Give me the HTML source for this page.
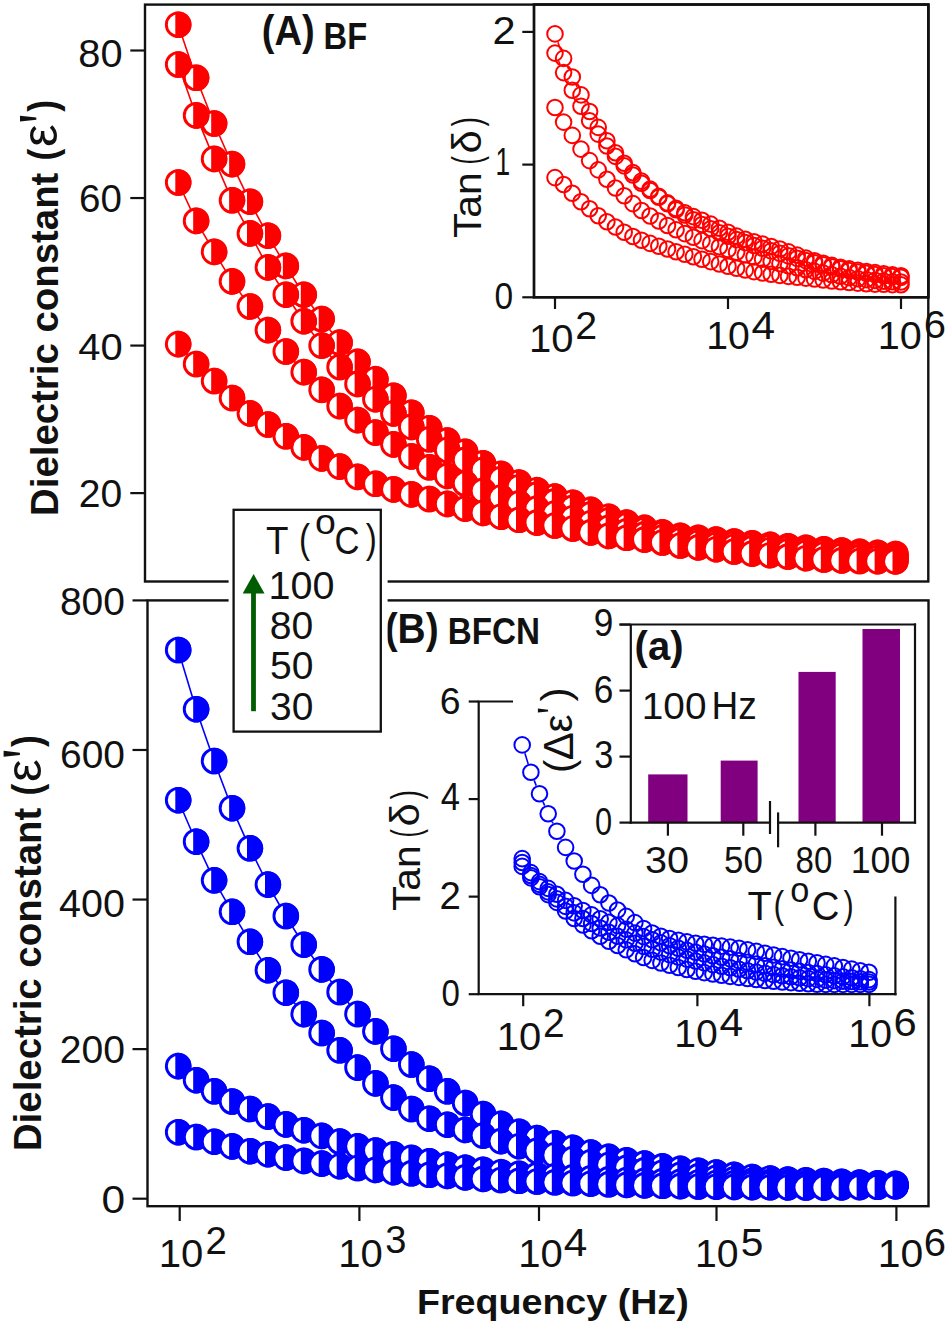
<!DOCTYPE html><html><head><meta charset="utf-8"><style>html,body{margin:0;padding:0;background:#fff;}body{width:952px;height:1328px;overflow:hidden;position:relative;}</style></head><body><svg width="952" height="1328" viewBox="0 0 952 1328" style="position:absolute;left:0;top:0" font-family="'Liberation Sans', sans-serif">
<rect width="952" height="1328" fill="#fff"/>
<polyline points="178.2,24.7 196.1,77.8 214.1,123.5 232.0,164.1 249.9,201.7 267.9,235.7 285.8,265.9 303.7,294.7 321.6,319.0 339.6,342.6 357.5,361.8 375.4,379.2 393.4,395.7 411.3,412.7 429.2,428.2 447.2,440.6 465.1,451.8 483.0,463.4 500.9,473.9 518.9,482.6 536.8,490.2 554.7,496.6 572.7,502.7 590.6,509.8 608.5,516.7 626.5,522.6 644.4,527.8 662.3,532.4 680.2,535.9 698.2,537.9 716.1,539.6 734.0,541.5 752.0,543.3 769.9,544.8 787.8,546.2 805.8,547.7 823.7,549.2 841.6,550.5 859.5,551.8 877.5,552.9 895.4,554.0" fill="none" stroke="#ff0000" stroke-width="1.6"/>
<polyline points="178.2,64.5 196.1,115.4 214.1,158.9 232.0,200.3 249.9,233.4 267.9,267.4 285.8,294.7 303.7,321.2 321.6,345.6 339.6,367.0 357.5,383.9 375.4,399.2 393.4,413.4 411.3,426.9 429.2,439.3 447.2,450.0 465.1,459.9 483.0,469.9 500.9,479.1 518.9,487.2 536.8,494.6 554.7,501.4 572.7,507.9 590.6,514.4 608.5,520.4 626.5,525.5 644.4,530.0 662.3,534.0 680.2,537.4 698.2,539.8 716.1,541.8 734.0,543.7 752.0,545.5 769.9,547.0 787.8,548.4 805.8,549.9 823.7,551.4 841.6,552.9 859.5,554.3 877.5,555.5 895.4,556.6" fill="none" stroke="#ff0000" stroke-width="1.6"/>
<polyline points="178.2,182.5 196.1,220.9 214.1,251.9 232.0,281.4 249.9,306.5 267.9,330.1 285.8,351.5 303.7,372.1 321.6,389.8 339.6,406.1 357.5,420.1 375.4,432.6 393.4,444.4 411.3,456.4 429.2,467.3 447.2,475.9 465.1,483.5 483.0,490.9 500.9,497.5 518.9,503.3 536.8,508.6 554.7,513.5 572.7,518.2 590.6,523.2 608.5,527.8 626.5,531.3 644.4,534.4 662.3,537.5 680.2,540.3 698.2,542.7 716.1,544.8 734.0,546.7 752.0,548.4 769.9,550.0 787.8,551.4 805.8,552.9 823.7,554.3 841.6,555.9 859.5,557.3 877.5,558.2 895.4,558.8" fill="none" stroke="#ff0000" stroke-width="1.6"/>
<polyline points="178.2,344.1 196.1,364.0 214.1,381.0 232.0,398.0 249.9,413.4 267.9,424.5 285.8,436.3 303.7,447.4 321.6,458.4 339.6,466.6 357.5,476.9 375.4,483.8 393.4,489.4 411.3,494.4 429.2,499.0 447.2,503.9 465.1,508.6 483.0,512.9 500.9,516.7 518.9,519.8 536.8,522.6 554.7,525.5 572.7,528.5 590.6,532.4 608.5,535.9 626.5,537.8 644.4,539.6 662.3,542.5 680.2,545.5 698.2,547.4 716.1,549.2 734.0,551.5 752.0,553.6 769.9,555.2 787.8,556.6 805.8,558.2 823.7,559.5 841.6,560.4 859.5,561.0 877.5,561.2 895.4,561.4" fill="none" stroke="#ff0000" stroke-width="1.6"/>
<circle cx="178.2" cy="24.7" r="11.85" fill="#fff" stroke="#ff0000" stroke-width="2.9"/>
<path d="M175.3,11.70A13.3,13.3 0 1 1 175.3,37.66Z" fill="#ff0000"/>
<circle cx="196.1" cy="77.8" r="11.85" fill="#fff" stroke="#ff0000" stroke-width="2.9"/>
<path d="M193.2,64.81A13.3,13.3 0 1 1 193.2,90.77Z" fill="#ff0000"/>
<circle cx="214.1" cy="123.5" r="11.85" fill="#fff" stroke="#ff0000" stroke-width="2.9"/>
<path d="M211.2,110.55A13.3,13.3 0 1 1 211.2,136.51Z" fill="#ff0000"/>
<circle cx="232.0" cy="164.1" r="11.85" fill="#fff" stroke="#ff0000" stroke-width="2.9"/>
<path d="M229.1,151.13A13.3,13.3 0 1 1 229.1,177.09Z" fill="#ff0000"/>
<circle cx="249.9" cy="201.7" r="11.85" fill="#fff" stroke="#ff0000" stroke-width="2.9"/>
<path d="M247.0,188.75A13.3,13.3 0 1 1 247.0,214.71Z" fill="#ff0000"/>
<circle cx="267.9" cy="235.7" r="11.85" fill="#fff" stroke="#ff0000" stroke-width="2.9"/>
<path d="M265.0,222.68A13.3,13.3 0 1 1 265.0,248.64Z" fill="#ff0000"/>
<circle cx="285.8" cy="265.9" r="11.85" fill="#fff" stroke="#ff0000" stroke-width="2.9"/>
<path d="M282.9,252.93A13.3,13.3 0 1 1 282.9,278.89Z" fill="#ff0000"/>
<circle cx="303.7" cy="294.7" r="11.85" fill="#fff" stroke="#ff0000" stroke-width="2.9"/>
<path d="M300.8,281.70A13.3,13.3 0 1 1 300.8,307.66Z" fill="#ff0000"/>
<circle cx="321.6" cy="319.0" r="11.85" fill="#fff" stroke="#ff0000" stroke-width="2.9"/>
<path d="M318.7,306.04A13.3,13.3 0 1 1 318.7,332.00Z" fill="#ff0000"/>
<circle cx="339.6" cy="342.6" r="11.85" fill="#fff" stroke="#ff0000" stroke-width="2.9"/>
<path d="M336.7,329.65A13.3,13.3 0 1 1 336.7,355.61Z" fill="#ff0000"/>
<circle cx="357.5" cy="361.8" r="11.85" fill="#fff" stroke="#ff0000" stroke-width="2.9"/>
<path d="M354.6,348.83A13.3,13.3 0 1 1 354.6,374.79Z" fill="#ff0000"/>
<circle cx="375.4" cy="379.2" r="11.85" fill="#fff" stroke="#ff0000" stroke-width="2.9"/>
<path d="M372.5,366.18A13.3,13.3 0 1 1 372.5,392.14Z" fill="#ff0000"/>
<circle cx="393.4" cy="395.7" r="11.85" fill="#fff" stroke="#ff0000" stroke-width="2.9"/>
<path d="M390.5,382.76A13.3,13.3 0 1 1 390.5,408.72Z" fill="#ff0000"/>
<circle cx="411.3" cy="412.7" r="11.85" fill="#fff" stroke="#ff0000" stroke-width="2.9"/>
<path d="M408.4,399.72A13.3,13.3 0 1 1 408.4,425.68Z" fill="#ff0000"/>
<circle cx="429.2" cy="428.2" r="11.85" fill="#fff" stroke="#ff0000" stroke-width="2.9"/>
<path d="M426.3,415.22A13.3,13.3 0 1 1 426.3,441.18Z" fill="#ff0000"/>
<circle cx="447.2" cy="440.6" r="11.85" fill="#fff" stroke="#ff0000" stroke-width="2.9"/>
<path d="M444.3,427.59A13.3,13.3 0 1 1 444.3,453.55Z" fill="#ff0000"/>
<circle cx="465.1" cy="451.8" r="11.85" fill="#fff" stroke="#ff0000" stroke-width="2.9"/>
<path d="M462.2,438.83A13.3,13.3 0 1 1 462.2,464.79Z" fill="#ff0000"/>
<circle cx="483.0" cy="463.4" r="11.85" fill="#fff" stroke="#ff0000" stroke-width="2.9"/>
<path d="M480.1,450.41A13.3,13.3 0 1 1 480.1,476.37Z" fill="#ff0000"/>
<circle cx="500.9" cy="473.9" r="11.85" fill="#fff" stroke="#ff0000" stroke-width="2.9"/>
<path d="M498.0,460.96A13.3,13.3 0 1 1 498.0,486.92Z" fill="#ff0000"/>
<circle cx="518.9" cy="482.6" r="11.85" fill="#fff" stroke="#ff0000" stroke-width="2.9"/>
<path d="M516.0,469.65A13.3,13.3 0 1 1 516.0,495.61Z" fill="#ff0000"/>
<circle cx="536.8" cy="490.2" r="11.85" fill="#fff" stroke="#ff0000" stroke-width="2.9"/>
<path d="M533.9,477.19A13.3,13.3 0 1 1 533.9,503.15Z" fill="#ff0000"/>
<circle cx="554.7" cy="496.6" r="11.85" fill="#fff" stroke="#ff0000" stroke-width="2.9"/>
<path d="M551.8,483.57A13.3,13.3 0 1 1 551.8,509.53Z" fill="#ff0000"/>
<circle cx="572.7" cy="502.7" r="11.85" fill="#fff" stroke="#ff0000" stroke-width="2.9"/>
<path d="M569.8,489.73A13.3,13.3 0 1 1 569.8,515.69Z" fill="#ff0000"/>
<circle cx="590.6" cy="509.8" r="11.85" fill="#fff" stroke="#ff0000" stroke-width="2.9"/>
<path d="M587.7,496.85A13.3,13.3 0 1 1 587.7,522.81Z" fill="#ff0000"/>
<circle cx="608.5" cy="516.7" r="11.85" fill="#fff" stroke="#ff0000" stroke-width="2.9"/>
<path d="M605.6,503.75A13.3,13.3 0 1 1 605.6,529.71Z" fill="#ff0000"/>
<circle cx="626.5" cy="522.6" r="11.85" fill="#fff" stroke="#ff0000" stroke-width="2.9"/>
<path d="M623.6,509.65A13.3,13.3 0 1 1 623.6,535.61Z" fill="#ff0000"/>
<circle cx="644.4" cy="527.8" r="11.85" fill="#fff" stroke="#ff0000" stroke-width="2.9"/>
<path d="M641.5,514.81A13.3,13.3 0 1 1 641.5,540.77Z" fill="#ff0000"/>
<circle cx="662.3" cy="532.4" r="11.85" fill="#fff" stroke="#ff0000" stroke-width="2.9"/>
<path d="M659.4,519.41A13.3,13.3 0 1 1 659.4,545.37Z" fill="#ff0000"/>
<circle cx="680.2" cy="535.9" r="11.85" fill="#fff" stroke="#ff0000" stroke-width="2.9"/>
<path d="M677.3,522.93A13.3,13.3 0 1 1 677.3,548.89Z" fill="#ff0000"/>
<circle cx="698.2" cy="537.9" r="11.85" fill="#fff" stroke="#ff0000" stroke-width="2.9"/>
<path d="M695.3,524.94A13.3,13.3 0 1 1 695.3,550.90Z" fill="#ff0000"/>
<circle cx="716.1" cy="539.6" r="11.85" fill="#fff" stroke="#ff0000" stroke-width="2.9"/>
<path d="M713.2,526.62A13.3,13.3 0 1 1 713.2,552.58Z" fill="#ff0000"/>
<circle cx="734.0" cy="541.5" r="11.85" fill="#fff" stroke="#ff0000" stroke-width="2.9"/>
<path d="M731.1,528.51A13.3,13.3 0 1 1 731.1,554.47Z" fill="#ff0000"/>
<circle cx="752.0" cy="543.3" r="11.85" fill="#fff" stroke="#ff0000" stroke-width="2.9"/>
<path d="M749.1,530.30A13.3,13.3 0 1 1 749.1,556.26Z" fill="#ff0000"/>
<circle cx="769.9" cy="544.8" r="11.85" fill="#fff" stroke="#ff0000" stroke-width="2.9"/>
<path d="M767.0,531.82A13.3,13.3 0 1 1 767.0,557.78Z" fill="#ff0000"/>
<circle cx="787.8" cy="546.2" r="11.85" fill="#fff" stroke="#ff0000" stroke-width="2.9"/>
<path d="M784.9,533.25A13.3,13.3 0 1 1 784.9,559.21Z" fill="#ff0000"/>
<circle cx="805.8" cy="547.7" r="11.85" fill="#fff" stroke="#ff0000" stroke-width="2.9"/>
<path d="M802.9,534.75A13.3,13.3 0 1 1 802.9,560.71Z" fill="#ff0000"/>
<circle cx="823.7" cy="549.2" r="11.85" fill="#fff" stroke="#ff0000" stroke-width="2.9"/>
<path d="M820.8,536.21A13.3,13.3 0 1 1 820.8,562.17Z" fill="#ff0000"/>
<circle cx="841.6" cy="550.5" r="11.85" fill="#fff" stroke="#ff0000" stroke-width="2.9"/>
<path d="M838.7,537.54A13.3,13.3 0 1 1 838.7,563.50Z" fill="#ff0000"/>
<circle cx="859.5" cy="551.8" r="11.85" fill="#fff" stroke="#ff0000" stroke-width="2.9"/>
<path d="M856.6,538.79A13.3,13.3 0 1 1 856.6,564.75Z" fill="#ff0000"/>
<circle cx="877.5" cy="552.9" r="11.85" fill="#fff" stroke="#ff0000" stroke-width="2.9"/>
<path d="M874.6,539.94A13.3,13.3 0 1 1 874.6,565.90Z" fill="#ff0000"/>
<circle cx="895.4" cy="554.0" r="11.85" fill="#fff" stroke="#ff0000" stroke-width="2.9"/>
<path d="M892.5,541.00A13.3,13.3 0 1 1 892.5,566.96Z" fill="#ff0000"/>
<circle cx="178.2" cy="64.5" r="11.85" fill="#fff" stroke="#ff0000" stroke-width="2.9"/>
<path d="M175.3,51.54A13.3,13.3 0 1 1 175.3,77.50Z" fill="#ff0000"/>
<circle cx="196.1" cy="115.4" r="11.85" fill="#fff" stroke="#ff0000" stroke-width="2.9"/>
<path d="M193.2,102.44A13.3,13.3 0 1 1 193.2,128.40Z" fill="#ff0000"/>
<circle cx="214.1" cy="158.9" r="11.85" fill="#fff" stroke="#ff0000" stroke-width="2.9"/>
<path d="M211.2,145.96A13.3,13.3 0 1 1 211.2,171.92Z" fill="#ff0000"/>
<circle cx="232.0" cy="200.3" r="11.85" fill="#fff" stroke="#ff0000" stroke-width="2.9"/>
<path d="M229.1,187.27A13.3,13.3 0 1 1 229.1,213.23Z" fill="#ff0000"/>
<circle cx="249.9" cy="233.4" r="11.85" fill="#fff" stroke="#ff0000" stroke-width="2.9"/>
<path d="M247.0,220.47A13.3,13.3 0 1 1 247.0,246.43Z" fill="#ff0000"/>
<circle cx="267.9" cy="267.4" r="11.85" fill="#fff" stroke="#ff0000" stroke-width="2.9"/>
<path d="M265.0,254.40A13.3,13.3 0 1 1 265.0,280.36Z" fill="#ff0000"/>
<circle cx="285.8" cy="294.7" r="11.85" fill="#fff" stroke="#ff0000" stroke-width="2.9"/>
<path d="M282.9,281.70A13.3,13.3 0 1 1 282.9,307.66Z" fill="#ff0000"/>
<circle cx="303.7" cy="321.2" r="11.85" fill="#fff" stroke="#ff0000" stroke-width="2.9"/>
<path d="M300.8,308.26A13.3,13.3 0 1 1 300.8,334.22Z" fill="#ff0000"/>
<circle cx="321.6" cy="345.6" r="11.85" fill="#fff" stroke="#ff0000" stroke-width="2.9"/>
<path d="M318.7,332.60A13.3,13.3 0 1 1 318.7,358.56Z" fill="#ff0000"/>
<circle cx="339.6" cy="367.0" r="11.85" fill="#fff" stroke="#ff0000" stroke-width="2.9"/>
<path d="M336.7,353.99A13.3,13.3 0 1 1 336.7,379.95Z" fill="#ff0000"/>
<circle cx="357.5" cy="383.9" r="11.85" fill="#fff" stroke="#ff0000" stroke-width="2.9"/>
<path d="M354.6,370.96A13.3,13.3 0 1 1 354.6,396.92Z" fill="#ff0000"/>
<circle cx="375.4" cy="399.2" r="11.85" fill="#fff" stroke="#ff0000" stroke-width="2.9"/>
<path d="M372.5,386.25A13.3,13.3 0 1 1 372.5,412.21Z" fill="#ff0000"/>
<circle cx="393.4" cy="413.4" r="11.85" fill="#fff" stroke="#ff0000" stroke-width="2.9"/>
<path d="M390.5,400.47A13.3,13.3 0 1 1 390.5,426.43Z" fill="#ff0000"/>
<circle cx="411.3" cy="426.9" r="11.85" fill="#fff" stroke="#ff0000" stroke-width="2.9"/>
<path d="M408.4,413.95A13.3,13.3 0 1 1 408.4,439.91Z" fill="#ff0000"/>
<circle cx="429.2" cy="439.3" r="11.85" fill="#fff" stroke="#ff0000" stroke-width="2.9"/>
<path d="M426.3,426.29A13.3,13.3 0 1 1 426.3,452.25Z" fill="#ff0000"/>
<circle cx="447.2" cy="450.0" r="11.85" fill="#fff" stroke="#ff0000" stroke-width="2.9"/>
<path d="M444.3,437.00A13.3,13.3 0 1 1 444.3,462.96Z" fill="#ff0000"/>
<circle cx="465.1" cy="459.9" r="11.85" fill="#fff" stroke="#ff0000" stroke-width="2.9"/>
<path d="M462.2,446.94A13.3,13.3 0 1 1 462.2,472.90Z" fill="#ff0000"/>
<circle cx="483.0" cy="469.9" r="11.85" fill="#fff" stroke="#ff0000" stroke-width="2.9"/>
<path d="M480.1,456.88A13.3,13.3 0 1 1 480.1,482.84Z" fill="#ff0000"/>
<circle cx="500.9" cy="479.1" r="11.85" fill="#fff" stroke="#ff0000" stroke-width="2.9"/>
<path d="M498.0,466.12A13.3,13.3 0 1 1 498.0,492.08Z" fill="#ff0000"/>
<circle cx="518.9" cy="487.2" r="11.85" fill="#fff" stroke="#ff0000" stroke-width="2.9"/>
<path d="M516.0,474.22A13.3,13.3 0 1 1 516.0,500.18Z" fill="#ff0000"/>
<circle cx="536.8" cy="494.6" r="11.85" fill="#fff" stroke="#ff0000" stroke-width="2.9"/>
<path d="M533.9,481.62A13.3,13.3 0 1 1 533.9,507.58Z" fill="#ff0000"/>
<circle cx="554.7" cy="501.4" r="11.85" fill="#fff" stroke="#ff0000" stroke-width="2.9"/>
<path d="M551.8,488.43A13.3,13.3 0 1 1 551.8,514.39Z" fill="#ff0000"/>
<circle cx="572.7" cy="507.9" r="11.85" fill="#fff" stroke="#ff0000" stroke-width="2.9"/>
<path d="M569.8,494.89A13.3,13.3 0 1 1 569.8,520.85Z" fill="#ff0000"/>
<circle cx="590.6" cy="514.4" r="11.85" fill="#fff" stroke="#ff0000" stroke-width="2.9"/>
<path d="M587.7,501.42A13.3,13.3 0 1 1 587.7,527.38Z" fill="#ff0000"/>
<circle cx="608.5" cy="520.4" r="11.85" fill="#fff" stroke="#ff0000" stroke-width="2.9"/>
<path d="M605.6,507.43A13.3,13.3 0 1 1 605.6,533.39Z" fill="#ff0000"/>
<circle cx="626.5" cy="525.5" r="11.85" fill="#fff" stroke="#ff0000" stroke-width="2.9"/>
<path d="M623.6,512.55A13.3,13.3 0 1 1 623.6,538.51Z" fill="#ff0000"/>
<circle cx="644.4" cy="530.0" r="11.85" fill="#fff" stroke="#ff0000" stroke-width="2.9"/>
<path d="M641.5,517.03A13.3,13.3 0 1 1 641.5,542.98Z" fill="#ff0000"/>
<circle cx="662.3" cy="534.0" r="11.85" fill="#fff" stroke="#ff0000" stroke-width="2.9"/>
<path d="M659.4,521.06A13.3,13.3 0 1 1 659.4,547.02Z" fill="#ff0000"/>
<circle cx="680.2" cy="537.4" r="11.85" fill="#fff" stroke="#ff0000" stroke-width="2.9"/>
<path d="M677.3,524.40A13.3,13.3 0 1 1 677.3,550.36Z" fill="#ff0000"/>
<circle cx="698.2" cy="539.8" r="11.85" fill="#fff" stroke="#ff0000" stroke-width="2.9"/>
<path d="M695.3,526.80A13.3,13.3 0 1 1 695.3,552.76Z" fill="#ff0000"/>
<circle cx="716.1" cy="541.8" r="11.85" fill="#fff" stroke="#ff0000" stroke-width="2.9"/>
<path d="M713.2,528.83A13.3,13.3 0 1 1 713.2,554.79Z" fill="#ff0000"/>
<circle cx="734.0" cy="543.7" r="11.85" fill="#fff" stroke="#ff0000" stroke-width="2.9"/>
<path d="M731.1,530.77A13.3,13.3 0 1 1 731.1,556.73Z" fill="#ff0000"/>
<circle cx="752.0" cy="545.5" r="11.85" fill="#fff" stroke="#ff0000" stroke-width="2.9"/>
<path d="M749.1,532.52A13.3,13.3 0 1 1 749.1,558.48Z" fill="#ff0000"/>
<circle cx="769.9" cy="547.0" r="11.85" fill="#fff" stroke="#ff0000" stroke-width="2.9"/>
<path d="M767.0,534.03A13.3,13.3 0 1 1 767.0,559.99Z" fill="#ff0000"/>
<circle cx="787.8" cy="548.4" r="11.85" fill="#fff" stroke="#ff0000" stroke-width="2.9"/>
<path d="M784.9,535.47A13.3,13.3 0 1 1 784.9,561.43Z" fill="#ff0000"/>
<circle cx="805.8" cy="549.9" r="11.85" fill="#fff" stroke="#ff0000" stroke-width="2.9"/>
<path d="M802.9,536.94A13.3,13.3 0 1 1 802.9,562.90Z" fill="#ff0000"/>
<circle cx="823.7" cy="551.4" r="11.85" fill="#fff" stroke="#ff0000" stroke-width="2.9"/>
<path d="M820.8,538.42A13.3,13.3 0 1 1 820.8,564.38Z" fill="#ff0000"/>
<circle cx="841.6" cy="552.9" r="11.85" fill="#fff" stroke="#ff0000" stroke-width="2.9"/>
<path d="M838.7,539.95A13.3,13.3 0 1 1 838.7,565.91Z" fill="#ff0000"/>
<circle cx="859.5" cy="554.3" r="11.85" fill="#fff" stroke="#ff0000" stroke-width="2.9"/>
<path d="M856.6,541.37A13.3,13.3 0 1 1 856.6,567.33Z" fill="#ff0000"/>
<circle cx="877.5" cy="555.5" r="11.85" fill="#fff" stroke="#ff0000" stroke-width="2.9"/>
<path d="M874.6,542.56A13.3,13.3 0 1 1 874.6,568.52Z" fill="#ff0000"/>
<circle cx="895.4" cy="556.6" r="11.85" fill="#fff" stroke="#ff0000" stroke-width="2.9"/>
<path d="M892.5,543.58A13.3,13.3 0 1 1 892.5,569.54Z" fill="#ff0000"/>
<circle cx="178.2" cy="182.5" r="11.85" fill="#fff" stroke="#ff0000" stroke-width="2.9"/>
<path d="M175.3,169.57A13.3,13.3 0 1 1 175.3,195.53Z" fill="#ff0000"/>
<circle cx="196.1" cy="220.9" r="11.85" fill="#fff" stroke="#ff0000" stroke-width="2.9"/>
<path d="M193.2,207.93A13.3,13.3 0 1 1 193.2,233.89Z" fill="#ff0000"/>
<circle cx="214.1" cy="251.9" r="11.85" fill="#fff" stroke="#ff0000" stroke-width="2.9"/>
<path d="M211.2,238.91A13.3,13.3 0 1 1 211.2,264.87Z" fill="#ff0000"/>
<circle cx="232.0" cy="281.4" r="11.85" fill="#fff" stroke="#ff0000" stroke-width="2.9"/>
<path d="M229.1,268.42A13.3,13.3 0 1 1 229.1,294.38Z" fill="#ff0000"/>
<circle cx="249.9" cy="306.5" r="11.85" fill="#fff" stroke="#ff0000" stroke-width="2.9"/>
<path d="M247.0,293.50A13.3,13.3 0 1 1 247.0,319.46Z" fill="#ff0000"/>
<circle cx="267.9" cy="330.1" r="11.85" fill="#fff" stroke="#ff0000" stroke-width="2.9"/>
<path d="M265.0,317.11A13.3,13.3 0 1 1 265.0,343.07Z" fill="#ff0000"/>
<circle cx="285.8" cy="351.5" r="11.85" fill="#fff" stroke="#ff0000" stroke-width="2.9"/>
<path d="M282.9,338.50A13.3,13.3 0 1 1 282.9,364.46Z" fill="#ff0000"/>
<circle cx="303.7" cy="372.1" r="11.85" fill="#fff" stroke="#ff0000" stroke-width="2.9"/>
<path d="M300.8,359.16A13.3,13.3 0 1 1 300.8,385.12Z" fill="#ff0000"/>
<circle cx="321.6" cy="389.8" r="11.85" fill="#fff" stroke="#ff0000" stroke-width="2.9"/>
<path d="M318.7,376.86A13.3,13.3 0 1 1 318.7,402.82Z" fill="#ff0000"/>
<circle cx="339.6" cy="406.1" r="11.85" fill="#fff" stroke="#ff0000" stroke-width="2.9"/>
<path d="M336.7,393.09A13.3,13.3 0 1 1 336.7,419.05Z" fill="#ff0000"/>
<circle cx="357.5" cy="420.1" r="11.85" fill="#fff" stroke="#ff0000" stroke-width="2.9"/>
<path d="M354.6,407.11A13.3,13.3 0 1 1 354.6,433.07Z" fill="#ff0000"/>
<circle cx="375.4" cy="432.6" r="11.85" fill="#fff" stroke="#ff0000" stroke-width="2.9"/>
<path d="M372.5,419.61A13.3,13.3 0 1 1 372.5,445.57Z" fill="#ff0000"/>
<circle cx="393.4" cy="444.4" r="11.85" fill="#fff" stroke="#ff0000" stroke-width="2.9"/>
<path d="M390.5,431.45A13.3,13.3 0 1 1 390.5,457.41Z" fill="#ff0000"/>
<circle cx="411.3" cy="456.4" r="11.85" fill="#fff" stroke="#ff0000" stroke-width="2.9"/>
<path d="M408.4,443.46A13.3,13.3 0 1 1 408.4,469.42Z" fill="#ff0000"/>
<circle cx="429.2" cy="467.3" r="11.85" fill="#fff" stroke="#ff0000" stroke-width="2.9"/>
<path d="M426.3,454.32A13.3,13.3 0 1 1 426.3,480.28Z" fill="#ff0000"/>
<circle cx="447.2" cy="475.9" r="11.85" fill="#fff" stroke="#ff0000" stroke-width="2.9"/>
<path d="M444.3,462.93A13.3,13.3 0 1 1 444.3,488.89Z" fill="#ff0000"/>
<circle cx="465.1" cy="483.5" r="11.85" fill="#fff" stroke="#ff0000" stroke-width="2.9"/>
<path d="M462.2,470.55A13.3,13.3 0 1 1 462.2,496.51Z" fill="#ff0000"/>
<circle cx="483.0" cy="490.9" r="11.85" fill="#fff" stroke="#ff0000" stroke-width="2.9"/>
<path d="M480.1,477.89A13.3,13.3 0 1 1 480.1,503.85Z" fill="#ff0000"/>
<circle cx="500.9" cy="497.5" r="11.85" fill="#fff" stroke="#ff0000" stroke-width="2.9"/>
<path d="M498.0,484.57A13.3,13.3 0 1 1 498.0,510.53Z" fill="#ff0000"/>
<circle cx="518.9" cy="503.3" r="11.85" fill="#fff" stroke="#ff0000" stroke-width="2.9"/>
<path d="M516.0,490.36A13.3,13.3 0 1 1 516.0,516.32Z" fill="#ff0000"/>
<circle cx="536.8" cy="508.6" r="11.85" fill="#fff" stroke="#ff0000" stroke-width="2.9"/>
<path d="M533.9,495.63A13.3,13.3 0 1 1 533.9,521.59Z" fill="#ff0000"/>
<circle cx="554.7" cy="513.5" r="11.85" fill="#fff" stroke="#ff0000" stroke-width="2.9"/>
<path d="M551.8,500.51A13.3,13.3 0 1 1 551.8,526.47Z" fill="#ff0000"/>
<circle cx="572.7" cy="518.2" r="11.85" fill="#fff" stroke="#ff0000" stroke-width="2.9"/>
<path d="M569.8,505.22A13.3,13.3 0 1 1 569.8,531.18Z" fill="#ff0000"/>
<circle cx="590.6" cy="523.2" r="11.85" fill="#fff" stroke="#ff0000" stroke-width="2.9"/>
<path d="M587.7,510.23A13.3,13.3 0 1 1 587.7,536.19Z" fill="#ff0000"/>
<circle cx="608.5" cy="527.8" r="11.85" fill="#fff" stroke="#ff0000" stroke-width="2.9"/>
<path d="M605.6,514.81A13.3,13.3 0 1 1 605.6,540.77Z" fill="#ff0000"/>
<circle cx="626.5" cy="531.3" r="11.85" fill="#fff" stroke="#ff0000" stroke-width="2.9"/>
<path d="M623.6,518.33A13.3,13.3 0 1 1 623.6,544.29Z" fill="#ff0000"/>
<circle cx="644.4" cy="534.4" r="11.85" fill="#fff" stroke="#ff0000" stroke-width="2.9"/>
<path d="M641.5,521.45A13.3,13.3 0 1 1 641.5,547.41Z" fill="#ff0000"/>
<circle cx="662.3" cy="537.5" r="11.85" fill="#fff" stroke="#ff0000" stroke-width="2.9"/>
<path d="M659.4,524.55A13.3,13.3 0 1 1 659.4,550.51Z" fill="#ff0000"/>
<circle cx="680.2" cy="540.3" r="11.85" fill="#fff" stroke="#ff0000" stroke-width="2.9"/>
<path d="M677.3,527.35A13.3,13.3 0 1 1 677.3,553.31Z" fill="#ff0000"/>
<circle cx="698.2" cy="542.7" r="11.85" fill="#fff" stroke="#ff0000" stroke-width="2.9"/>
<path d="M695.3,529.70A13.3,13.3 0 1 1 695.3,555.66Z" fill="#ff0000"/>
<circle cx="716.1" cy="544.8" r="11.85" fill="#fff" stroke="#ff0000" stroke-width="2.9"/>
<path d="M713.2,531.78A13.3,13.3 0 1 1 713.2,557.74Z" fill="#ff0000"/>
<circle cx="734.0" cy="546.7" r="11.85" fill="#fff" stroke="#ff0000" stroke-width="2.9"/>
<path d="M731.1,533.72A13.3,13.3 0 1 1 731.1,559.68Z" fill="#ff0000"/>
<circle cx="752.0" cy="548.4" r="11.85" fill="#fff" stroke="#ff0000" stroke-width="2.9"/>
<path d="M749.1,535.47A13.3,13.3 0 1 1 749.1,561.43Z" fill="#ff0000"/>
<circle cx="769.9" cy="550.0" r="11.85" fill="#fff" stroke="#ff0000" stroke-width="2.9"/>
<path d="M767.0,536.98A13.3,13.3 0 1 1 767.0,562.94Z" fill="#ff0000"/>
<circle cx="787.8" cy="551.4" r="11.85" fill="#fff" stroke="#ff0000" stroke-width="2.9"/>
<path d="M784.9,538.42A13.3,13.3 0 1 1 784.9,564.38Z" fill="#ff0000"/>
<circle cx="805.8" cy="552.9" r="11.85" fill="#fff" stroke="#ff0000" stroke-width="2.9"/>
<path d="M802.9,539.89A13.3,13.3 0 1 1 802.9,565.85Z" fill="#ff0000"/>
<circle cx="823.7" cy="554.3" r="11.85" fill="#fff" stroke="#ff0000" stroke-width="2.9"/>
<path d="M820.8,541.37A13.3,13.3 0 1 1 820.8,567.33Z" fill="#ff0000"/>
<circle cx="841.6" cy="555.9" r="11.85" fill="#fff" stroke="#ff0000" stroke-width="2.9"/>
<path d="M838.7,542.97A13.3,13.3 0 1 1 838.7,568.93Z" fill="#ff0000"/>
<circle cx="859.5" cy="557.3" r="11.85" fill="#fff" stroke="#ff0000" stroke-width="2.9"/>
<path d="M856.6,544.32A13.3,13.3 0 1 1 856.6,570.28Z" fill="#ff0000"/>
<circle cx="877.5" cy="558.2" r="11.85" fill="#fff" stroke="#ff0000" stroke-width="2.9"/>
<path d="M874.6,545.21A13.3,13.3 0 1 1 874.6,571.17Z" fill="#ff0000"/>
<circle cx="895.4" cy="558.8" r="11.85" fill="#fff" stroke="#ff0000" stroke-width="2.9"/>
<path d="M892.5,545.80A13.3,13.3 0 1 1 892.5,571.76Z" fill="#ff0000"/>
<circle cx="178.2" cy="344.1" r="11.85" fill="#fff" stroke="#ff0000" stroke-width="2.9"/>
<path d="M175.3,331.12A13.3,13.3 0 1 1 175.3,357.08Z" fill="#ff0000"/>
<circle cx="196.1" cy="364.0" r="11.85" fill="#fff" stroke="#ff0000" stroke-width="2.9"/>
<path d="M193.2,351.04A13.3,13.3 0 1 1 193.2,377.00Z" fill="#ff0000"/>
<circle cx="214.1" cy="381.0" r="11.85" fill="#fff" stroke="#ff0000" stroke-width="2.9"/>
<path d="M211.2,368.01A13.3,13.3 0 1 1 211.2,393.97Z" fill="#ff0000"/>
<circle cx="232.0" cy="398.0" r="11.85" fill="#fff" stroke="#ff0000" stroke-width="2.9"/>
<path d="M229.1,384.98A13.3,13.3 0 1 1 229.1,410.94Z" fill="#ff0000"/>
<circle cx="249.9" cy="413.4" r="11.85" fill="#fff" stroke="#ff0000" stroke-width="2.9"/>
<path d="M247.0,400.47A13.3,13.3 0 1 1 247.0,426.43Z" fill="#ff0000"/>
<circle cx="267.9" cy="424.5" r="11.85" fill="#fff" stroke="#ff0000" stroke-width="2.9"/>
<path d="M265.0,411.53A13.3,13.3 0 1 1 265.0,437.49Z" fill="#ff0000"/>
<circle cx="285.8" cy="436.3" r="11.85" fill="#fff" stroke="#ff0000" stroke-width="2.9"/>
<path d="M282.9,423.34A13.3,13.3 0 1 1 282.9,449.30Z" fill="#ff0000"/>
<circle cx="303.7" cy="447.4" r="11.85" fill="#fff" stroke="#ff0000" stroke-width="2.9"/>
<path d="M300.8,434.40A13.3,13.3 0 1 1 300.8,460.36Z" fill="#ff0000"/>
<circle cx="321.6" cy="458.4" r="11.85" fill="#fff" stroke="#ff0000" stroke-width="2.9"/>
<path d="M318.7,445.47A13.3,13.3 0 1 1 318.7,471.43Z" fill="#ff0000"/>
<circle cx="339.6" cy="466.6" r="11.85" fill="#fff" stroke="#ff0000" stroke-width="2.9"/>
<path d="M336.7,453.58A13.3,13.3 0 1 1 336.7,479.54Z" fill="#ff0000"/>
<circle cx="357.5" cy="476.9" r="11.85" fill="#fff" stroke="#ff0000" stroke-width="2.9"/>
<path d="M354.6,463.91A13.3,13.3 0 1 1 354.6,489.87Z" fill="#ff0000"/>
<circle cx="375.4" cy="483.8" r="11.85" fill="#fff" stroke="#ff0000" stroke-width="2.9"/>
<path d="M372.5,470.83A13.3,13.3 0 1 1 372.5,496.79Z" fill="#ff0000"/>
<circle cx="393.4" cy="489.4" r="11.85" fill="#fff" stroke="#ff0000" stroke-width="2.9"/>
<path d="M390.5,476.45A13.3,13.3 0 1 1 390.5,502.41Z" fill="#ff0000"/>
<circle cx="411.3" cy="494.4" r="11.85" fill="#fff" stroke="#ff0000" stroke-width="2.9"/>
<path d="M408.4,481.41A13.3,13.3 0 1 1 408.4,507.37Z" fill="#ff0000"/>
<circle cx="429.2" cy="499.0" r="11.85" fill="#fff" stroke="#ff0000" stroke-width="2.9"/>
<path d="M426.3,486.04A13.3,13.3 0 1 1 426.3,512.00Z" fill="#ff0000"/>
<circle cx="447.2" cy="503.9" r="11.85" fill="#fff" stroke="#ff0000" stroke-width="2.9"/>
<path d="M444.3,490.94A13.3,13.3 0 1 1 444.3,516.90Z" fill="#ff0000"/>
<circle cx="465.1" cy="508.6" r="11.85" fill="#fff" stroke="#ff0000" stroke-width="2.9"/>
<path d="M462.2,495.63A13.3,13.3 0 1 1 462.2,521.59Z" fill="#ff0000"/>
<circle cx="483.0" cy="512.9" r="11.85" fill="#fff" stroke="#ff0000" stroke-width="2.9"/>
<path d="M480.1,499.93A13.3,13.3 0 1 1 480.1,525.89Z" fill="#ff0000"/>
<circle cx="500.9" cy="516.7" r="11.85" fill="#fff" stroke="#ff0000" stroke-width="2.9"/>
<path d="M498.0,503.75A13.3,13.3 0 1 1 498.0,529.71Z" fill="#ff0000"/>
<circle cx="518.9" cy="519.8" r="11.85" fill="#fff" stroke="#ff0000" stroke-width="2.9"/>
<path d="M516.0,506.81A13.3,13.3 0 1 1 516.0,532.77Z" fill="#ff0000"/>
<circle cx="536.8" cy="522.6" r="11.85" fill="#fff" stroke="#ff0000" stroke-width="2.9"/>
<path d="M533.9,509.65A13.3,13.3 0 1 1 533.9,535.61Z" fill="#ff0000"/>
<circle cx="554.7" cy="525.5" r="11.85" fill="#fff" stroke="#ff0000" stroke-width="2.9"/>
<path d="M551.8,512.52A13.3,13.3 0 1 1 551.8,538.48Z" fill="#ff0000"/>
<circle cx="572.7" cy="528.5" r="11.85" fill="#fff" stroke="#ff0000" stroke-width="2.9"/>
<path d="M569.8,515.55A13.3,13.3 0 1 1 569.8,541.51Z" fill="#ff0000"/>
<circle cx="590.6" cy="532.4" r="11.85" fill="#fff" stroke="#ff0000" stroke-width="2.9"/>
<path d="M587.7,519.44A13.3,13.3 0 1 1 587.7,545.40Z" fill="#ff0000"/>
<circle cx="608.5" cy="535.9" r="11.85" fill="#fff" stroke="#ff0000" stroke-width="2.9"/>
<path d="M605.6,522.93A13.3,13.3 0 1 1 605.6,548.89Z" fill="#ff0000"/>
<circle cx="626.5" cy="537.8" r="11.85" fill="#fff" stroke="#ff0000" stroke-width="2.9"/>
<path d="M623.6,524.82A13.3,13.3 0 1 1 623.6,550.78Z" fill="#ff0000"/>
<circle cx="644.4" cy="539.6" r="11.85" fill="#fff" stroke="#ff0000" stroke-width="2.9"/>
<path d="M641.5,526.62A13.3,13.3 0 1 1 641.5,552.58Z" fill="#ff0000"/>
<circle cx="662.3" cy="542.5" r="11.85" fill="#fff" stroke="#ff0000" stroke-width="2.9"/>
<path d="M659.4,529.57A13.3,13.3 0 1 1 659.4,555.53Z" fill="#ff0000"/>
<circle cx="680.2" cy="545.5" r="11.85" fill="#fff" stroke="#ff0000" stroke-width="2.9"/>
<path d="M677.3,532.52A13.3,13.3 0 1 1 677.3,558.48Z" fill="#ff0000"/>
<circle cx="698.2" cy="547.4" r="11.85" fill="#fff" stroke="#ff0000" stroke-width="2.9"/>
<path d="M695.3,534.43A13.3,13.3 0 1 1 695.3,560.39Z" fill="#ff0000"/>
<circle cx="716.1" cy="549.2" r="11.85" fill="#fff" stroke="#ff0000" stroke-width="2.9"/>
<path d="M713.2,536.21A13.3,13.3 0 1 1 713.2,562.17Z" fill="#ff0000"/>
<circle cx="734.0" cy="551.5" r="11.85" fill="#fff" stroke="#ff0000" stroke-width="2.9"/>
<path d="M731.1,538.48A13.3,13.3 0 1 1 731.1,564.44Z" fill="#ff0000"/>
<circle cx="752.0" cy="553.6" r="11.85" fill="#fff" stroke="#ff0000" stroke-width="2.9"/>
<path d="M749.1,540.63A13.3,13.3 0 1 1 749.1,566.59Z" fill="#ff0000"/>
<circle cx="769.9" cy="555.2" r="11.85" fill="#fff" stroke="#ff0000" stroke-width="2.9"/>
<path d="M767.0,542.18A13.3,13.3 0 1 1 767.0,568.14Z" fill="#ff0000"/>
<circle cx="787.8" cy="556.6" r="11.85" fill="#fff" stroke="#ff0000" stroke-width="2.9"/>
<path d="M784.9,543.58A13.3,13.3 0 1 1 784.9,569.54Z" fill="#ff0000"/>
<circle cx="805.8" cy="558.2" r="11.85" fill="#fff" stroke="#ff0000" stroke-width="2.9"/>
<path d="M802.9,545.18A13.3,13.3 0 1 1 802.9,571.14Z" fill="#ff0000"/>
<circle cx="823.7" cy="559.5" r="11.85" fill="#fff" stroke="#ff0000" stroke-width="2.9"/>
<path d="M820.8,546.53A13.3,13.3 0 1 1 820.8,572.49Z" fill="#ff0000"/>
<circle cx="841.6" cy="560.4" r="11.85" fill="#fff" stroke="#ff0000" stroke-width="2.9"/>
<path d="M838.7,547.44A13.3,13.3 0 1 1 838.7,573.40Z" fill="#ff0000"/>
<circle cx="859.5" cy="561.0" r="11.85" fill="#fff" stroke="#ff0000" stroke-width="2.9"/>
<path d="M856.6,548.01A13.3,13.3 0 1 1 856.6,573.97Z" fill="#ff0000"/>
<circle cx="877.5" cy="561.2" r="11.85" fill="#fff" stroke="#ff0000" stroke-width="2.9"/>
<path d="M874.6,548.27A13.3,13.3 0 1 1 874.6,574.23Z" fill="#ff0000"/>
<circle cx="895.4" cy="561.4" r="11.85" fill="#fff" stroke="#ff0000" stroke-width="2.9"/>
<path d="M892.5,548.38A13.3,13.3 0 1 1 892.5,574.34Z" fill="#ff0000"/>
<rect x="145" y="4.6" width="783.3" height="576.9" fill="none" stroke="#111" stroke-width="2.4"/>
<line x1="130.3" y1="50.5" x2="145" y2="50.5" stroke="#111" stroke-width="2.2"/>
<line x1="130.3" y1="198.04" x2="145" y2="198.04" stroke="#111" stroke-width="2.2"/>
<line x1="130.3" y1="345.58" x2="145" y2="345.58" stroke="#111" stroke-width="2.2"/>
<line x1="130.3" y1="493.12" x2="145" y2="493.12" stroke="#111" stroke-width="2.2"/>
<text x="78.31" y="67.41" font-size="38.59" textLength="44.28" lengthAdjust="spacingAndGlyphs" fill="#111">80</text>
<text x="79.07" y="212.41" font-size="38.73" textLength="42.86" lengthAdjust="spacingAndGlyphs" fill="#111">60</text>
<text x="78.20" y="359.52" font-size="37.74" textLength="44.39" lengthAdjust="spacingAndGlyphs" fill="#111">40</text>
<text x="78.74" y="507.41" font-size="38.73" textLength="43.51" lengthAdjust="spacingAndGlyphs" fill="#111">20</text>
<text x="57.90" y="515.99" font-size="39.10" font-weight="bold" textLength="343.37" lengthAdjust="spacingAndGlyphs" transform="rotate(-90 57.90 515.99)" fill="#111">Dielectric constant</text>
<text x="57.17" y="160.47" font-size="40.64" font-weight="bold" textLength="11.79" lengthAdjust="spacingAndGlyphs" transform="rotate(-90 57.17 160.47)" fill="#111">(</text>
<text x="57.40" y="146.89" font-size="50.23" textLength="22.75" lengthAdjust="spacingAndGlyphs" transform="rotate(-90 57.40 146.89)" fill="#111">ε</text>
<path d="M20,115.7 L36.3,117.6 L36.3,119.8 L20,121.6 Z" fill="#111"/>
<text x="57.17" y="111.79" font-size="40.64" font-weight="bold" textLength="11.89" lengthAdjust="spacingAndGlyphs" transform="rotate(-90 57.17 111.79)" fill="#111">)</text>
<text x="41.50" y="1151.09" font-size="39.10" font-weight="bold" textLength="343.37" lengthAdjust="spacingAndGlyphs" transform="rotate(-90 41.50 1151.09)" fill="#111">Dielectric constant</text>
<text x="40.77" y="795.57" font-size="40.64" font-weight="bold" textLength="11.79" lengthAdjust="spacingAndGlyphs" transform="rotate(-90 40.77 795.57)" fill="#111">(</text>
<text x="41.00" y="781.99" font-size="50.23" textLength="22.75" lengthAdjust="spacingAndGlyphs" transform="rotate(-90 41.00 781.99)" fill="#111">ε</text>
<path d="M3.6000000000000014,750.8000000000001 L19.9,752.7 L19.9,754.9 L3.6000000000000014,756.7 Z" fill="#111"/>
<text x="40.77" y="746.89" font-size="40.64" font-weight="bold" textLength="11.89" lengthAdjust="spacingAndGlyphs" transform="rotate(-90 40.77 746.89)" fill="#111">)</text>
<text x="261.79" y="45.43" font-size="43.22" font-weight="bold" textLength="52.94" lengthAdjust="spacingAndGlyphs" fill="#111">(A)</text>
<text x="323.59" y="48.90" font-size="37.67" font-weight="bold" textLength="43.57" lengthAdjust="spacingAndGlyphs" fill="#111">BF</text>
<rect x="534" y="4.6" width="394.3" height="292.7" fill="#fff" stroke="#111" stroke-width="2.4"/>
<circle cx="555.0" cy="177.6" r="7.8" fill="none" stroke="#ff0000" stroke-width="2.0"/>
<circle cx="563.6" cy="184.5" r="7.8" fill="none" stroke="#ff0000" stroke-width="2.0"/>
<circle cx="572.3" cy="193.3" r="7.8" fill="none" stroke="#ff0000" stroke-width="2.0"/>
<circle cx="581.0" cy="201.8" r="7.8" fill="none" stroke="#ff0000" stroke-width="2.0"/>
<circle cx="589.6" cy="208.7" r="7.8" fill="none" stroke="#ff0000" stroke-width="2.0"/>
<circle cx="598.2" cy="215.7" r="7.8" fill="none" stroke="#ff0000" stroke-width="2.0"/>
<circle cx="606.9" cy="221.7" r="7.8" fill="none" stroke="#ff0000" stroke-width="2.0"/>
<circle cx="615.5" cy="227.0" r="7.8" fill="none" stroke="#ff0000" stroke-width="2.0"/>
<circle cx="624.2" cy="232.3" r="7.8" fill="none" stroke="#ff0000" stroke-width="2.0"/>
<circle cx="632.9" cy="236.5" r="7.8" fill="none" stroke="#ff0000" stroke-width="2.0"/>
<circle cx="641.5" cy="240.2" r="7.8" fill="none" stroke="#ff0000" stroke-width="2.0"/>
<circle cx="650.1" cy="243.4" r="7.8" fill="none" stroke="#ff0000" stroke-width="2.0"/>
<circle cx="658.8" cy="246.3" r="7.8" fill="none" stroke="#ff0000" stroke-width="2.0"/>
<circle cx="667.5" cy="249.0" r="7.8" fill="none" stroke="#ff0000" stroke-width="2.0"/>
<circle cx="676.1" cy="251.7" r="7.8" fill="none" stroke="#ff0000" stroke-width="2.0"/>
<circle cx="684.8" cy="254.3" r="7.8" fill="none" stroke="#ff0000" stroke-width="2.0"/>
<circle cx="693.4" cy="256.8" r="7.8" fill="none" stroke="#ff0000" stroke-width="2.0"/>
<circle cx="702.0" cy="259.3" r="7.8" fill="none" stroke="#ff0000" stroke-width="2.0"/>
<circle cx="710.7" cy="261.6" r="7.8" fill="none" stroke="#ff0000" stroke-width="2.0"/>
<circle cx="719.4" cy="264.0" r="7.8" fill="none" stroke="#ff0000" stroke-width="2.0"/>
<circle cx="728.0" cy="266.2" r="7.8" fill="none" stroke="#ff0000" stroke-width="2.0"/>
<circle cx="736.6" cy="268.3" r="7.8" fill="none" stroke="#ff0000" stroke-width="2.0"/>
<circle cx="745.3" cy="270.0" r="7.8" fill="none" stroke="#ff0000" stroke-width="2.0"/>
<circle cx="754.0" cy="271.6" r="7.8" fill="none" stroke="#ff0000" stroke-width="2.0"/>
<circle cx="762.6" cy="273.0" r="7.8" fill="none" stroke="#ff0000" stroke-width="2.0"/>
<circle cx="771.2" cy="274.3" r="7.8" fill="none" stroke="#ff0000" stroke-width="2.0"/>
<circle cx="779.9" cy="275.4" r="7.8" fill="none" stroke="#ff0000" stroke-width="2.0"/>
<circle cx="788.5" cy="276.4" r="7.8" fill="none" stroke="#ff0000" stroke-width="2.0"/>
<circle cx="797.2" cy="277.3" r="7.8" fill="none" stroke="#ff0000" stroke-width="2.0"/>
<circle cx="805.9" cy="278.1" r="7.8" fill="none" stroke="#ff0000" stroke-width="2.0"/>
<circle cx="814.5" cy="279.0" r="7.8" fill="none" stroke="#ff0000" stroke-width="2.0"/>
<circle cx="823.2" cy="280.0" r="7.8" fill="none" stroke="#ff0000" stroke-width="2.0"/>
<circle cx="831.8" cy="281.0" r="7.8" fill="none" stroke="#ff0000" stroke-width="2.0"/>
<circle cx="840.5" cy="281.8" r="7.8" fill="none" stroke="#ff0000" stroke-width="2.0"/>
<circle cx="849.1" cy="282.5" r="7.8" fill="none" stroke="#ff0000" stroke-width="2.0"/>
<circle cx="857.8" cy="283.1" r="7.8" fill="none" stroke="#ff0000" stroke-width="2.0"/>
<circle cx="866.4" cy="283.7" r="7.8" fill="none" stroke="#ff0000" stroke-width="2.0"/>
<circle cx="875.0" cy="284.1" r="7.8" fill="none" stroke="#ff0000" stroke-width="2.0"/>
<circle cx="883.7" cy="284.3" r="7.8" fill="none" stroke="#ff0000" stroke-width="2.0"/>
<circle cx="892.4" cy="284.6" r="7.8" fill="none" stroke="#ff0000" stroke-width="2.0"/>
<circle cx="901.0" cy="284.7" r="7.8" fill="none" stroke="#ff0000" stroke-width="2.0"/>
<circle cx="555.0" cy="107.5" r="7.8" fill="none" stroke="#ff0000" stroke-width="2.0"/>
<circle cx="563.6" cy="122.1" r="7.8" fill="none" stroke="#ff0000" stroke-width="2.0"/>
<circle cx="572.3" cy="135.4" r="7.8" fill="none" stroke="#ff0000" stroke-width="2.0"/>
<circle cx="581.0" cy="149.1" r="7.8" fill="none" stroke="#ff0000" stroke-width="2.0"/>
<circle cx="589.6" cy="160.6" r="7.8" fill="none" stroke="#ff0000" stroke-width="2.0"/>
<circle cx="598.2" cy="169.9" r="7.8" fill="none" stroke="#ff0000" stroke-width="2.0"/>
<circle cx="606.9" cy="179.3" r="7.8" fill="none" stroke="#ff0000" stroke-width="2.0"/>
<circle cx="615.5" cy="188.0" r="7.8" fill="none" stroke="#ff0000" stroke-width="2.0"/>
<circle cx="624.2" cy="195.8" r="7.8" fill="none" stroke="#ff0000" stroke-width="2.0"/>
<circle cx="632.9" cy="203.6" r="7.8" fill="none" stroke="#ff0000" stroke-width="2.0"/>
<circle cx="641.5" cy="210.5" r="7.8" fill="none" stroke="#ff0000" stroke-width="2.0"/>
<circle cx="650.1" cy="216.0" r="7.8" fill="none" stroke="#ff0000" stroke-width="2.0"/>
<circle cx="658.8" cy="221.0" r="7.8" fill="none" stroke="#ff0000" stroke-width="2.0"/>
<circle cx="667.5" cy="225.5" r="7.8" fill="none" stroke="#ff0000" stroke-width="2.0"/>
<circle cx="676.1" cy="229.7" r="7.8" fill="none" stroke="#ff0000" stroke-width="2.0"/>
<circle cx="684.8" cy="233.6" r="7.8" fill="none" stroke="#ff0000" stroke-width="2.0"/>
<circle cx="693.4" cy="237.2" r="7.8" fill="none" stroke="#ff0000" stroke-width="2.0"/>
<circle cx="702.0" cy="240.6" r="7.8" fill="none" stroke="#ff0000" stroke-width="2.0"/>
<circle cx="710.7" cy="243.8" r="7.8" fill="none" stroke="#ff0000" stroke-width="2.0"/>
<circle cx="719.4" cy="246.7" r="7.8" fill="none" stroke="#ff0000" stroke-width="2.0"/>
<circle cx="728.0" cy="249.5" r="7.8" fill="none" stroke="#ff0000" stroke-width="2.0"/>
<circle cx="736.6" cy="252.2" r="7.8" fill="none" stroke="#ff0000" stroke-width="2.0"/>
<circle cx="745.3" cy="254.7" r="7.8" fill="none" stroke="#ff0000" stroke-width="2.0"/>
<circle cx="754.0" cy="257.0" r="7.8" fill="none" stroke="#ff0000" stroke-width="2.0"/>
<circle cx="762.6" cy="259.3" r="7.8" fill="none" stroke="#ff0000" stroke-width="2.0"/>
<circle cx="771.2" cy="261.5" r="7.8" fill="none" stroke="#ff0000" stroke-width="2.0"/>
<circle cx="779.9" cy="263.6" r="7.8" fill="none" stroke="#ff0000" stroke-width="2.0"/>
<circle cx="788.5" cy="265.7" r="7.8" fill="none" stroke="#ff0000" stroke-width="2.0"/>
<circle cx="797.2" cy="267.7" r="7.8" fill="none" stroke="#ff0000" stroke-width="2.0"/>
<circle cx="805.9" cy="269.7" r="7.8" fill="none" stroke="#ff0000" stroke-width="2.0"/>
<circle cx="814.5" cy="271.4" r="7.8" fill="none" stroke="#ff0000" stroke-width="2.0"/>
<circle cx="823.2" cy="273.1" r="7.8" fill="none" stroke="#ff0000" stroke-width="2.0"/>
<circle cx="831.8" cy="274.8" r="7.8" fill="none" stroke="#ff0000" stroke-width="2.0"/>
<circle cx="840.5" cy="276.3" r="7.8" fill="none" stroke="#ff0000" stroke-width="2.0"/>
<circle cx="849.1" cy="277.6" r="7.8" fill="none" stroke="#ff0000" stroke-width="2.0"/>
<circle cx="857.8" cy="278.7" r="7.8" fill="none" stroke="#ff0000" stroke-width="2.0"/>
<circle cx="866.4" cy="279.6" r="7.8" fill="none" stroke="#ff0000" stroke-width="2.0"/>
<circle cx="875.0" cy="280.4" r="7.8" fill="none" stroke="#ff0000" stroke-width="2.0"/>
<circle cx="883.7" cy="281.1" r="7.8" fill="none" stroke="#ff0000" stroke-width="2.0"/>
<circle cx="892.4" cy="281.7" r="7.8" fill="none" stroke="#ff0000" stroke-width="2.0"/>
<circle cx="901.0" cy="282.0" r="7.8" fill="none" stroke="#ff0000" stroke-width="2.0"/>
<path d="M558.6,61.2L560.1,64.5M567.5,80.5L568.4,82.4M576.5,98.0L576.8,98.5" fill="none" stroke="#ff0000" stroke-width="1.6"/>
<circle cx="555.0" cy="53.1" r="7.8" fill="none" stroke="#ff0000" stroke-width="2.0"/>
<circle cx="563.6" cy="72.6" r="7.8" fill="none" stroke="#ff0000" stroke-width="2.0"/>
<circle cx="572.3" cy="90.3" r="7.8" fill="none" stroke="#ff0000" stroke-width="2.0"/>
<circle cx="581.0" cy="106.3" r="7.8" fill="none" stroke="#ff0000" stroke-width="2.0"/>
<circle cx="589.6" cy="120.8" r="7.8" fill="none" stroke="#ff0000" stroke-width="2.0"/>
<circle cx="598.2" cy="134.1" r="7.8" fill="none" stroke="#ff0000" stroke-width="2.0"/>
<circle cx="606.9" cy="146.0" r="7.8" fill="none" stroke="#ff0000" stroke-width="2.0"/>
<circle cx="615.5" cy="156.4" r="7.8" fill="none" stroke="#ff0000" stroke-width="2.0"/>
<circle cx="624.2" cy="165.9" r="7.8" fill="none" stroke="#ff0000" stroke-width="2.0"/>
<circle cx="632.9" cy="175.0" r="7.8" fill="none" stroke="#ff0000" stroke-width="2.0"/>
<circle cx="641.5" cy="183.2" r="7.8" fill="none" stroke="#ff0000" stroke-width="2.0"/>
<circle cx="650.1" cy="190.5" r="7.8" fill="none" stroke="#ff0000" stroke-width="2.0"/>
<circle cx="658.8" cy="197.3" r="7.8" fill="none" stroke="#ff0000" stroke-width="2.0"/>
<circle cx="667.5" cy="203.7" r="7.8" fill="none" stroke="#ff0000" stroke-width="2.0"/>
<circle cx="676.1" cy="209.7" r="7.8" fill="none" stroke="#ff0000" stroke-width="2.0"/>
<circle cx="684.8" cy="215.0" r="7.8" fill="none" stroke="#ff0000" stroke-width="2.0"/>
<circle cx="693.4" cy="219.9" r="7.8" fill="none" stroke="#ff0000" stroke-width="2.0"/>
<circle cx="702.0" cy="224.5" r="7.8" fill="none" stroke="#ff0000" stroke-width="2.0"/>
<circle cx="710.7" cy="228.7" r="7.8" fill="none" stroke="#ff0000" stroke-width="2.0"/>
<circle cx="719.4" cy="232.7" r="7.8" fill="none" stroke="#ff0000" stroke-width="2.0"/>
<circle cx="728.0" cy="236.3" r="7.8" fill="none" stroke="#ff0000" stroke-width="2.0"/>
<circle cx="736.6" cy="239.6" r="7.8" fill="none" stroke="#ff0000" stroke-width="2.0"/>
<circle cx="745.3" cy="242.6" r="7.8" fill="none" stroke="#ff0000" stroke-width="2.0"/>
<circle cx="754.0" cy="245.5" r="7.8" fill="none" stroke="#ff0000" stroke-width="2.0"/>
<circle cx="762.6" cy="248.2" r="7.8" fill="none" stroke="#ff0000" stroke-width="2.0"/>
<circle cx="771.2" cy="250.9" r="7.8" fill="none" stroke="#ff0000" stroke-width="2.0"/>
<circle cx="779.9" cy="253.4" r="7.8" fill="none" stroke="#ff0000" stroke-width="2.0"/>
<circle cx="788.5" cy="255.9" r="7.8" fill="none" stroke="#ff0000" stroke-width="2.0"/>
<circle cx="797.2" cy="258.4" r="7.8" fill="none" stroke="#ff0000" stroke-width="2.0"/>
<circle cx="805.9" cy="260.6" r="7.8" fill="none" stroke="#ff0000" stroke-width="2.0"/>
<circle cx="814.5" cy="262.8" r="7.8" fill="none" stroke="#ff0000" stroke-width="2.0"/>
<circle cx="823.2" cy="264.9" r="7.8" fill="none" stroke="#ff0000" stroke-width="2.0"/>
<circle cx="831.8" cy="266.9" r="7.8" fill="none" stroke="#ff0000" stroke-width="2.0"/>
<circle cx="840.5" cy="268.8" r="7.8" fill="none" stroke="#ff0000" stroke-width="2.0"/>
<circle cx="849.1" cy="270.6" r="7.8" fill="none" stroke="#ff0000" stroke-width="2.0"/>
<circle cx="857.8" cy="272.1" r="7.8" fill="none" stroke="#ff0000" stroke-width="2.0"/>
<circle cx="866.4" cy="273.4" r="7.8" fill="none" stroke="#ff0000" stroke-width="2.0"/>
<circle cx="875.0" cy="274.6" r="7.8" fill="none" stroke="#ff0000" stroke-width="2.0"/>
<circle cx="883.7" cy="275.7" r="7.8" fill="none" stroke="#ff0000" stroke-width="2.0"/>
<circle cx="892.4" cy="276.6" r="7.8" fill="none" stroke="#ff0000" stroke-width="2.0"/>
<circle cx="901.0" cy="277.4" r="7.8" fill="none" stroke="#ff0000" stroke-width="2.0"/>
<path d="M557.9,42.2L560.7,50.1M567.4,66.4L568.6,69.0M576.1,84.9L577.1,87.0M585.0,102.7L585.5,103.7M593.8,119.3L594.0,119.7" fill="none" stroke="#ff0000" stroke-width="1.6"/>
<circle cx="555.0" cy="33.9" r="7.8" fill="none" stroke="#ff0000" stroke-width="2.0"/>
<circle cx="563.6" cy="58.4" r="7.8" fill="none" stroke="#ff0000" stroke-width="2.0"/>
<circle cx="572.3" cy="77.0" r="7.8" fill="none" stroke="#ff0000" stroke-width="2.0"/>
<circle cx="581.0" cy="94.9" r="7.8" fill="none" stroke="#ff0000" stroke-width="2.0"/>
<circle cx="589.6" cy="111.5" r="7.8" fill="none" stroke="#ff0000" stroke-width="2.0"/>
<circle cx="598.2" cy="127.4" r="7.8" fill="none" stroke="#ff0000" stroke-width="2.0"/>
<circle cx="606.9" cy="140.7" r="7.8" fill="none" stroke="#ff0000" stroke-width="2.0"/>
<circle cx="615.5" cy="152.7" r="7.8" fill="none" stroke="#ff0000" stroke-width="2.0"/>
<circle cx="624.2" cy="163.3" r="7.8" fill="none" stroke="#ff0000" stroke-width="2.0"/>
<circle cx="632.9" cy="172.6" r="7.8" fill="none" stroke="#ff0000" stroke-width="2.0"/>
<circle cx="641.5" cy="181.1" r="7.8" fill="none" stroke="#ff0000" stroke-width="2.0"/>
<circle cx="650.1" cy="189.1" r="7.8" fill="none" stroke="#ff0000" stroke-width="2.0"/>
<circle cx="658.8" cy="196.4" r="7.8" fill="none" stroke="#ff0000" stroke-width="2.0"/>
<circle cx="667.5" cy="202.9" r="7.8" fill="none" stroke="#ff0000" stroke-width="2.0"/>
<circle cx="676.1" cy="208.4" r="7.8" fill="none" stroke="#ff0000" stroke-width="2.0"/>
<circle cx="684.8" cy="212.8" r="7.8" fill="none" stroke="#ff0000" stroke-width="2.0"/>
<circle cx="693.4" cy="216.6" r="7.8" fill="none" stroke="#ff0000" stroke-width="2.0"/>
<circle cx="702.0" cy="220.2" r="7.8" fill="none" stroke="#ff0000" stroke-width="2.0"/>
<circle cx="710.7" cy="224.1" r="7.8" fill="none" stroke="#ff0000" stroke-width="2.0"/>
<circle cx="719.4" cy="228.2" r="7.8" fill="none" stroke="#ff0000" stroke-width="2.0"/>
<circle cx="728.0" cy="232.3" r="7.8" fill="none" stroke="#ff0000" stroke-width="2.0"/>
<circle cx="736.6" cy="236.1" r="7.8" fill="none" stroke="#ff0000" stroke-width="2.0"/>
<circle cx="745.3" cy="239.2" r="7.8" fill="none" stroke="#ff0000" stroke-width="2.0"/>
<circle cx="754.0" cy="241.8" r="7.8" fill="none" stroke="#ff0000" stroke-width="2.0"/>
<circle cx="762.6" cy="244.1" r="7.8" fill="none" stroke="#ff0000" stroke-width="2.0"/>
<circle cx="771.2" cy="246.5" r="7.8" fill="none" stroke="#ff0000" stroke-width="2.0"/>
<circle cx="779.9" cy="249.0" r="7.8" fill="none" stroke="#ff0000" stroke-width="2.0"/>
<circle cx="788.5" cy="251.9" r="7.8" fill="none" stroke="#ff0000" stroke-width="2.0"/>
<circle cx="797.2" cy="255.1" r="7.8" fill="none" stroke="#ff0000" stroke-width="2.0"/>
<circle cx="805.9" cy="258.1" r="7.8" fill="none" stroke="#ff0000" stroke-width="2.0"/>
<circle cx="814.5" cy="260.8" r="7.8" fill="none" stroke="#ff0000" stroke-width="2.0"/>
<circle cx="823.2" cy="263.2" r="7.8" fill="none" stroke="#ff0000" stroke-width="2.0"/>
<circle cx="831.8" cy="265.4" r="7.8" fill="none" stroke="#ff0000" stroke-width="2.0"/>
<circle cx="840.5" cy="267.3" r="7.8" fill="none" stroke="#ff0000" stroke-width="2.0"/>
<circle cx="849.1" cy="268.9" r="7.8" fill="none" stroke="#ff0000" stroke-width="2.0"/>
<circle cx="857.8" cy="270.3" r="7.8" fill="none" stroke="#ff0000" stroke-width="2.0"/>
<circle cx="866.4" cy="271.5" r="7.8" fill="none" stroke="#ff0000" stroke-width="2.0"/>
<circle cx="875.0" cy="272.6" r="7.8" fill="none" stroke="#ff0000" stroke-width="2.0"/>
<circle cx="883.7" cy="273.7" r="7.8" fill="none" stroke="#ff0000" stroke-width="2.0"/>
<circle cx="892.4" cy="274.7" r="7.8" fill="none" stroke="#ff0000" stroke-width="2.0"/>
<circle cx="901.0" cy="275.7" r="7.8" fill="none" stroke="#ff0000" stroke-width="2.0"/>
<rect x="534" y="4.6" width="394.3" height="292.7" fill="none" stroke="#111" stroke-width="2.4"/>
<line x1="522.3" y1="31.900000000000034" x2="534" y2="31.900000000000034" stroke="#111" stroke-width="2.2"/>
<line x1="522.3" y1="164.60000000000002" x2="534" y2="164.60000000000002" stroke="#111" stroke-width="2.2"/>
<line x1="522.3" y1="297.3" x2="534" y2="297.3" stroke="#111" stroke-width="2.2"/>
<text x="492.62" y="43.60" font-size="39.14" textLength="23.10" lengthAdjust="spacingAndGlyphs" fill="#111">2</text>
<text x="495.62" y="174.80" font-size="38.40" textLength="14.66" lengthAdjust="spacingAndGlyphs" fill="#111">1</text>
<text x="494.56" y="308.73" font-size="37.46" textLength="18.64" lengthAdjust="spacingAndGlyphs" fill="#111">0</text>
<line x1="555.0" y1="297.3" x2="555.0" y2="309" stroke="#111" stroke-width="2.2"/>
<text x="529.10" y="351.62" font-size="37.88" textLength="44.49" lengthAdjust="spacingAndGlyphs" fill="#111">10</text>
<text x="575.23" y="338.90" font-size="39.14" textLength="21.88" lengthAdjust="spacingAndGlyphs" fill="#111">2</text>
<line x1="728.0" y1="297.3" x2="728.0" y2="309" stroke="#111" stroke-width="2.2"/>
<text x="706.26" y="349.21" font-size="38.59" textLength="43.60" lengthAdjust="spacingAndGlyphs" fill="#111">10</text>
<text x="751.55" y="338.70" font-size="39.13" textLength="23.57" lengthAdjust="spacingAndGlyphs" fill="#111">4</text>
<line x1="901.0" y1="297.3" x2="901.0" y2="309" stroke="#111" stroke-width="2.2"/>
<text x="877.83" y="349.21" font-size="38.59" textLength="44.05" lengthAdjust="spacingAndGlyphs" fill="#111">10</text>
<text x="923.80" y="338.31" font-size="38.73" textLength="22.25" lengthAdjust="spacingAndGlyphs" fill="#111">6</text>
<text x="481.10" y="238.02" font-size="38.40" textLength="65.66" lengthAdjust="spacingAndGlyphs" transform="rotate(-90 481.10 238.02)" fill="#111">Tan</text>
<text x="481.33" y="164.46" font-size="40.32" textLength="8.29" lengthAdjust="spacingAndGlyphs" transform="rotate(-90 481.33 164.46)" fill="#111">(</text>
<text x="480.70" y="153.48" font-size="40.14" textLength="23.33" lengthAdjust="spacingAndGlyphs" transform="rotate(-90 480.70 153.48)" fill="#111">δ</text>
<text x="481.33" y="126.52" font-size="40.32" textLength="9.68" lengthAdjust="spacingAndGlyphs" transform="rotate(-90 481.33 126.52)" fill="#111">)</text>
<polyline points="178.2,650.0 196.1,709.2 214.1,761.0 232.0,808.2 249.9,848.3 267.9,884.6 285.8,916.0 303.7,944.7 321.6,969.4 339.6,992.0 357.5,1014.0 375.4,1031.4 393.4,1048.7 411.3,1064.5 429.2,1078.7 447.2,1091.3 465.1,1103.0 483.0,1114.1 500.9,1123.9 518.9,1131.7 536.8,1138.1 554.7,1143.3 572.7,1147.8 590.6,1152.5 608.5,1156.8 626.5,1160.4 644.4,1163.6 662.3,1166.4 680.2,1168.8 698.2,1170.7 716.1,1172.5 734.0,1174.9 752.0,1177.0 769.9,1178.5 787.8,1179.6 805.8,1180.4 823.7,1181.1 841.6,1181.9 859.5,1182.6 877.5,1183.3 895.4,1183.9" fill="none" stroke="#0000ff" stroke-width="1.6"/>
<polyline points="178.2,800.2 196.1,841.7 214.1,880.3 232.0,911.8 249.9,941.8 267.9,970.2 285.8,992.7 303.7,1014.1 321.6,1033.0 339.6,1050.3 357.5,1067.6 375.4,1083.4 393.4,1097.6 411.3,1109.0 429.2,1118.7 447.2,1124.7 465.1,1129.9 483.0,1135.6 500.9,1141.1 518.9,1146.2 536.8,1150.8 554.7,1155.2 572.7,1159.1 590.6,1162.2 608.5,1165.0 626.5,1167.8 644.4,1170.3 662.3,1172.7 680.2,1174.8 698.2,1176.3 716.1,1177.8 734.0,1179.3 752.0,1180.8 769.9,1181.8 787.8,1182.6 805.8,1183.2 823.7,1183.7 841.6,1184.3 859.5,1184.9 877.5,1185.3 895.4,1185.6" fill="none" stroke="#0000ff" stroke-width="1.6"/>
<polyline points="178.2,1066.1 196.1,1080.2 214.1,1091.3 232.0,1101.5 249.9,1109.0 267.9,1116.6 285.8,1124.4 303.7,1130.2 321.6,1135.9 339.6,1141.5 357.5,1146.3 375.4,1150.5 393.4,1154.4 411.3,1157.9 429.2,1161.3 447.2,1164.7 465.1,1167.7 483.0,1169.9 500.9,1172.2 518.9,1173.8 536.8,1175.1 554.7,1176.3 572.7,1177.4 590.6,1178.4 608.5,1179.3 626.5,1180.1 644.4,1180.8 662.3,1181.3 680.2,1181.9 698.2,1182.5 716.1,1183.0 734.0,1183.4 752.0,1183.7 769.9,1184.1 787.8,1184.5 805.8,1184.7 823.7,1184.9 841.6,1185.1 859.5,1185.2 877.5,1185.2 895.4,1185.2" fill="none" stroke="#0000ff" stroke-width="1.6"/>
<polyline points="178.2,1132.2 196.1,1137.0 214.1,1141.7 232.0,1146.4 249.9,1151.2 267.9,1154.2 285.8,1157.6 303.7,1160.9 321.6,1163.6 339.6,1166.2 357.5,1168.0 375.4,1169.9 393.4,1172.2 411.3,1173.3 429.2,1174.8 447.2,1175.9 465.1,1177.4 483.0,1178.9 500.9,1180.0 518.9,1180.8 536.8,1181.5 554.7,1182.3 572.7,1183.0 590.6,1183.7 608.5,1184.3 626.5,1184.9 644.4,1185.4 662.3,1185.8 680.2,1186.1 698.2,1186.5 716.1,1186.7 734.0,1186.9 752.0,1187.1 769.9,1187.3 787.8,1187.4 805.8,1187.5 823.7,1187.5 841.6,1187.4 859.5,1187.1 877.5,1186.8 895.4,1186.4" fill="none" stroke="#0000ff" stroke-width="1.6"/>
<circle cx="178.2" cy="650.0" r="11.85" fill="#fff" stroke="#0000ff" stroke-width="2.9"/>
<path d="M175.3,637.01A13.3,13.3 0 1 1 175.3,662.97Z" fill="#0000ff"/>
<circle cx="196.1" cy="709.2" r="11.85" fill="#fff" stroke="#0000ff" stroke-width="2.9"/>
<path d="M193.2,696.24A13.3,13.3 0 1 1 193.2,722.20Z" fill="#0000ff"/>
<circle cx="214.1" cy="761.0" r="11.85" fill="#fff" stroke="#0000ff" stroke-width="2.9"/>
<path d="M211.2,747.99A13.3,13.3 0 1 1 211.2,773.95Z" fill="#0000ff"/>
<circle cx="232.0" cy="808.2" r="11.85" fill="#fff" stroke="#0000ff" stroke-width="2.9"/>
<path d="M229.1,795.26A13.3,13.3 0 1 1 229.1,821.22Z" fill="#0000ff"/>
<circle cx="249.9" cy="848.3" r="11.85" fill="#fff" stroke="#0000ff" stroke-width="2.9"/>
<path d="M247.0,835.34A13.3,13.3 0 1 1 247.0,861.30Z" fill="#0000ff"/>
<circle cx="267.9" cy="884.6" r="11.85" fill="#fff" stroke="#0000ff" stroke-width="2.9"/>
<path d="M265.0,871.61A13.3,13.3 0 1 1 265.0,897.57Z" fill="#0000ff"/>
<circle cx="285.8" cy="916.0" r="11.85" fill="#fff" stroke="#0000ff" stroke-width="2.9"/>
<path d="M282.9,903.03A13.3,13.3 0 1 1 282.9,928.99Z" fill="#0000ff"/>
<circle cx="303.7" cy="944.7" r="11.85" fill="#fff" stroke="#0000ff" stroke-width="2.9"/>
<path d="M300.8,931.74A13.3,13.3 0 1 1 300.8,957.70Z" fill="#0000ff"/>
<circle cx="321.6" cy="969.4" r="11.85" fill="#fff" stroke="#0000ff" stroke-width="2.9"/>
<path d="M318.7,956.42A13.3,13.3 0 1 1 318.7,982.38Z" fill="#0000ff"/>
<circle cx="339.6" cy="992.0" r="11.85" fill="#fff" stroke="#0000ff" stroke-width="2.9"/>
<path d="M336.7,979.01A13.3,13.3 0 1 1 336.7,1004.97Z" fill="#0000ff"/>
<circle cx="357.5" cy="1014.0" r="11.85" fill="#fff" stroke="#0000ff" stroke-width="2.9"/>
<path d="M354.6,1001.00A13.3,13.3 0 1 1 354.6,1026.96Z" fill="#0000ff"/>
<circle cx="375.4" cy="1031.4" r="11.85" fill="#fff" stroke="#0000ff" stroke-width="2.9"/>
<path d="M372.5,1018.42A13.3,13.3 0 1 1 372.5,1044.38Z" fill="#0000ff"/>
<circle cx="393.4" cy="1048.7" r="11.85" fill="#fff" stroke="#0000ff" stroke-width="2.9"/>
<path d="M390.5,1035.70A13.3,13.3 0 1 1 390.5,1061.66Z" fill="#0000ff"/>
<circle cx="411.3" cy="1064.5" r="11.85" fill="#fff" stroke="#0000ff" stroke-width="2.9"/>
<path d="M408.4,1051.55A13.3,13.3 0 1 1 408.4,1077.51Z" fill="#0000ff"/>
<circle cx="429.2" cy="1078.7" r="11.85" fill="#fff" stroke="#0000ff" stroke-width="2.9"/>
<path d="M426.3,1065.69A13.3,13.3 0 1 1 426.3,1091.65Z" fill="#0000ff"/>
<circle cx="447.2" cy="1091.3" r="11.85" fill="#fff" stroke="#0000ff" stroke-width="2.9"/>
<path d="M444.3,1078.32A13.3,13.3 0 1 1 444.3,1104.28Z" fill="#0000ff"/>
<circle cx="465.1" cy="1103.0" r="11.85" fill="#fff" stroke="#0000ff" stroke-width="2.9"/>
<path d="M462.2,1089.99A13.3,13.3 0 1 1 462.2,1115.95Z" fill="#0000ff"/>
<circle cx="483.0" cy="1114.1" r="11.85" fill="#fff" stroke="#0000ff" stroke-width="2.9"/>
<path d="M480.1,1101.16A13.3,13.3 0 1 1 480.1,1127.12Z" fill="#0000ff"/>
<circle cx="500.9" cy="1123.9" r="11.85" fill="#fff" stroke="#0000ff" stroke-width="2.9"/>
<path d="M498.0,1110.93A13.3,13.3 0 1 1 498.0,1136.89Z" fill="#0000ff"/>
<circle cx="518.9" cy="1131.7" r="11.85" fill="#fff" stroke="#0000ff" stroke-width="2.9"/>
<path d="M516.0,1118.71A13.3,13.3 0 1 1 516.0,1144.67Z" fill="#0000ff"/>
<circle cx="536.8" cy="1138.1" r="11.85" fill="#fff" stroke="#0000ff" stroke-width="2.9"/>
<path d="M533.9,1125.14A13.3,13.3 0 1 1 533.9,1151.10Z" fill="#0000ff"/>
<circle cx="554.7" cy="1143.3" r="11.85" fill="#fff" stroke="#0000ff" stroke-width="2.9"/>
<path d="M551.8,1130.28A13.3,13.3 0 1 1 551.8,1156.24Z" fill="#0000ff"/>
<circle cx="572.7" cy="1147.8" r="11.85" fill="#fff" stroke="#0000ff" stroke-width="2.9"/>
<path d="M569.8,1134.86A13.3,13.3 0 1 1 569.8,1160.82Z" fill="#0000ff"/>
<circle cx="590.6" cy="1152.5" r="11.85" fill="#fff" stroke="#0000ff" stroke-width="2.9"/>
<path d="M587.7,1139.56A13.3,13.3 0 1 1 587.7,1165.52Z" fill="#0000ff"/>
<circle cx="608.5" cy="1156.8" r="11.85" fill="#fff" stroke="#0000ff" stroke-width="2.9"/>
<path d="M605.6,1143.84A13.3,13.3 0 1 1 605.6,1169.80Z" fill="#0000ff"/>
<circle cx="626.5" cy="1160.4" r="11.85" fill="#fff" stroke="#0000ff" stroke-width="2.9"/>
<path d="M623.6,1147.43A13.3,13.3 0 1 1 623.6,1173.39Z" fill="#0000ff"/>
<circle cx="644.4" cy="1163.6" r="11.85" fill="#fff" stroke="#0000ff" stroke-width="2.9"/>
<path d="M641.5,1150.57A13.3,13.3 0 1 1 641.5,1176.53Z" fill="#0000ff"/>
<circle cx="662.3" cy="1166.4" r="11.85" fill="#fff" stroke="#0000ff" stroke-width="2.9"/>
<path d="M659.4,1153.38A13.3,13.3 0 1 1 659.4,1179.34Z" fill="#0000ff"/>
<circle cx="680.2" cy="1168.8" r="11.85" fill="#fff" stroke="#0000ff" stroke-width="2.9"/>
<path d="M677.3,1155.81A13.3,13.3 0 1 1 677.3,1181.77Z" fill="#0000ff"/>
<circle cx="698.2" cy="1170.7" r="11.85" fill="#fff" stroke="#0000ff" stroke-width="2.9"/>
<path d="M695.3,1157.71A13.3,13.3 0 1 1 695.3,1183.67Z" fill="#0000ff"/>
<circle cx="716.1" cy="1172.5" r="11.85" fill="#fff" stroke="#0000ff" stroke-width="2.9"/>
<path d="M713.2,1159.54A13.3,13.3 0 1 1 713.2,1185.50Z" fill="#0000ff"/>
<circle cx="734.0" cy="1174.9" r="11.85" fill="#fff" stroke="#0000ff" stroke-width="2.9"/>
<path d="M731.1,1161.88A13.3,13.3 0 1 1 731.1,1187.84Z" fill="#0000ff"/>
<circle cx="752.0" cy="1177.0" r="11.85" fill="#fff" stroke="#0000ff" stroke-width="2.9"/>
<path d="M749.1,1164.03A13.3,13.3 0 1 1 749.1,1189.99Z" fill="#0000ff"/>
<circle cx="769.9" cy="1178.5" r="11.85" fill="#fff" stroke="#0000ff" stroke-width="2.9"/>
<path d="M767.0,1165.52A13.3,13.3 0 1 1 767.0,1191.48Z" fill="#0000ff"/>
<circle cx="787.8" cy="1179.6" r="11.85" fill="#fff" stroke="#0000ff" stroke-width="2.9"/>
<path d="M784.9,1166.65A13.3,13.3 0 1 1 784.9,1192.61Z" fill="#0000ff"/>
<circle cx="805.8" cy="1180.4" r="11.85" fill="#fff" stroke="#0000ff" stroke-width="2.9"/>
<path d="M802.9,1167.45A13.3,13.3 0 1 1 802.9,1193.41Z" fill="#0000ff"/>
<circle cx="823.7" cy="1181.1" r="11.85" fill="#fff" stroke="#0000ff" stroke-width="2.9"/>
<path d="M820.8,1168.15A13.3,13.3 0 1 1 820.8,1194.11Z" fill="#0000ff"/>
<circle cx="841.6" cy="1181.9" r="11.85" fill="#fff" stroke="#0000ff" stroke-width="2.9"/>
<path d="M838.7,1168.91A13.3,13.3 0 1 1 838.7,1194.87Z" fill="#0000ff"/>
<circle cx="859.5" cy="1182.6" r="11.85" fill="#fff" stroke="#0000ff" stroke-width="2.9"/>
<path d="M856.6,1169.64A13.3,13.3 0 1 1 856.6,1195.60Z" fill="#0000ff"/>
<circle cx="877.5" cy="1183.3" r="11.85" fill="#fff" stroke="#0000ff" stroke-width="2.9"/>
<path d="M874.6,1170.30A13.3,13.3 0 1 1 874.6,1196.26Z" fill="#0000ff"/>
<circle cx="895.4" cy="1183.9" r="11.85" fill="#fff" stroke="#0000ff" stroke-width="2.9"/>
<path d="M892.5,1170.91A13.3,13.3 0 1 1 892.5,1196.87Z" fill="#0000ff"/>
<circle cx="178.2" cy="800.2" r="11.85" fill="#fff" stroke="#0000ff" stroke-width="2.9"/>
<path d="M175.3,787.25A13.3,13.3 0 1 1 175.3,813.21Z" fill="#0000ff"/>
<circle cx="196.1" cy="841.7" r="11.85" fill="#fff" stroke="#0000ff" stroke-width="2.9"/>
<path d="M193.2,828.69A13.3,13.3 0 1 1 193.2,854.65Z" fill="#0000ff"/>
<circle cx="214.1" cy="880.3" r="11.85" fill="#fff" stroke="#0000ff" stroke-width="2.9"/>
<path d="M211.2,867.35A13.3,13.3 0 1 1 211.2,893.31Z" fill="#0000ff"/>
<circle cx="232.0" cy="911.8" r="11.85" fill="#fff" stroke="#0000ff" stroke-width="2.9"/>
<path d="M229.1,898.84A13.3,13.3 0 1 1 229.1,924.80Z" fill="#0000ff"/>
<circle cx="249.9" cy="941.8" r="11.85" fill="#fff" stroke="#0000ff" stroke-width="2.9"/>
<path d="M247.0,928.83A13.3,13.3 0 1 1 247.0,954.79Z" fill="#0000ff"/>
<circle cx="267.9" cy="970.2" r="11.85" fill="#fff" stroke="#0000ff" stroke-width="2.9"/>
<path d="M265.0,957.25A13.3,13.3 0 1 1 265.0,983.21Z" fill="#0000ff"/>
<circle cx="285.8" cy="992.7" r="11.85" fill="#fff" stroke="#0000ff" stroke-width="2.9"/>
<path d="M282.9,979.76A13.3,13.3 0 1 1 282.9,1005.72Z" fill="#0000ff"/>
<circle cx="303.7" cy="1014.1" r="11.85" fill="#fff" stroke="#0000ff" stroke-width="2.9"/>
<path d="M300.8,1001.15A13.3,13.3 0 1 1 300.8,1027.11Z" fill="#0000ff"/>
<circle cx="321.6" cy="1033.0" r="11.85" fill="#fff" stroke="#0000ff" stroke-width="2.9"/>
<path d="M318.7,1019.99A13.3,13.3 0 1 1 318.7,1045.95Z" fill="#0000ff"/>
<circle cx="339.6" cy="1050.3" r="11.85" fill="#fff" stroke="#0000ff" stroke-width="2.9"/>
<path d="M336.7,1037.34A13.3,13.3 0 1 1 336.7,1063.30Z" fill="#0000ff"/>
<circle cx="357.5" cy="1067.6" r="11.85" fill="#fff" stroke="#0000ff" stroke-width="2.9"/>
<path d="M354.6,1054.62A13.3,13.3 0 1 1 354.6,1080.58Z" fill="#0000ff"/>
<circle cx="375.4" cy="1083.4" r="11.85" fill="#fff" stroke="#0000ff" stroke-width="2.9"/>
<path d="M372.5,1070.40A13.3,13.3 0 1 1 372.5,1096.36Z" fill="#0000ff"/>
<circle cx="393.4" cy="1097.6" r="11.85" fill="#fff" stroke="#0000ff" stroke-width="2.9"/>
<path d="M390.5,1084.61A13.3,13.3 0 1 1 390.5,1110.57Z" fill="#0000ff"/>
<circle cx="411.3" cy="1109.0" r="11.85" fill="#fff" stroke="#0000ff" stroke-width="2.9"/>
<path d="M408.4,1095.98A13.3,13.3 0 1 1 408.4,1121.94Z" fill="#0000ff"/>
<circle cx="429.2" cy="1118.7" r="11.85" fill="#fff" stroke="#0000ff" stroke-width="2.9"/>
<path d="M426.3,1105.70A13.3,13.3 0 1 1 426.3,1131.66Z" fill="#0000ff"/>
<circle cx="447.2" cy="1124.7" r="11.85" fill="#fff" stroke="#0000ff" stroke-width="2.9"/>
<path d="M444.3,1111.74A13.3,13.3 0 1 1 444.3,1137.70Z" fill="#0000ff"/>
<circle cx="465.1" cy="1129.9" r="11.85" fill="#fff" stroke="#0000ff" stroke-width="2.9"/>
<path d="M462.2,1116.92A13.3,13.3 0 1 1 462.2,1142.88Z" fill="#0000ff"/>
<circle cx="483.0" cy="1135.6" r="11.85" fill="#fff" stroke="#0000ff" stroke-width="2.9"/>
<path d="M480.1,1122.63A13.3,13.3 0 1 1 480.1,1148.59Z" fill="#0000ff"/>
<circle cx="500.9" cy="1141.1" r="11.85" fill="#fff" stroke="#0000ff" stroke-width="2.9"/>
<path d="M498.0,1128.13A13.3,13.3 0 1 1 498.0,1154.09Z" fill="#0000ff"/>
<circle cx="518.9" cy="1146.2" r="11.85" fill="#fff" stroke="#0000ff" stroke-width="2.9"/>
<path d="M516.0,1133.18A13.3,13.3 0 1 1 516.0,1159.14Z" fill="#0000ff"/>
<circle cx="536.8" cy="1150.8" r="11.85" fill="#fff" stroke="#0000ff" stroke-width="2.9"/>
<path d="M533.9,1137.86A13.3,13.3 0 1 1 533.9,1163.82Z" fill="#0000ff"/>
<circle cx="554.7" cy="1155.2" r="11.85" fill="#fff" stroke="#0000ff" stroke-width="2.9"/>
<path d="M551.8,1142.22A13.3,13.3 0 1 1 551.8,1168.18Z" fill="#0000ff"/>
<circle cx="572.7" cy="1159.1" r="11.85" fill="#fff" stroke="#0000ff" stroke-width="2.9"/>
<path d="M569.8,1146.08A13.3,13.3 0 1 1 569.8,1172.04Z" fill="#0000ff"/>
<circle cx="590.6" cy="1162.2" r="11.85" fill="#fff" stroke="#0000ff" stroke-width="2.9"/>
<path d="M587.7,1149.24A13.3,13.3 0 1 1 587.7,1175.20Z" fill="#0000ff"/>
<circle cx="608.5" cy="1165.0" r="11.85" fill="#fff" stroke="#0000ff" stroke-width="2.9"/>
<path d="M605.6,1152.07A13.3,13.3 0 1 1 605.6,1178.03Z" fill="#0000ff"/>
<circle cx="626.5" cy="1167.8" r="11.85" fill="#fff" stroke="#0000ff" stroke-width="2.9"/>
<path d="M623.6,1154.78A13.3,13.3 0 1 1 623.6,1180.74Z" fill="#0000ff"/>
<circle cx="644.4" cy="1170.3" r="11.85" fill="#fff" stroke="#0000ff" stroke-width="2.9"/>
<path d="M641.5,1157.30A13.3,13.3 0 1 1 641.5,1183.26Z" fill="#0000ff"/>
<circle cx="662.3" cy="1172.7" r="11.85" fill="#fff" stroke="#0000ff" stroke-width="2.9"/>
<path d="M659.4,1159.70A13.3,13.3 0 1 1 659.4,1185.66Z" fill="#0000ff"/>
<circle cx="680.2" cy="1174.8" r="11.85" fill="#fff" stroke="#0000ff" stroke-width="2.9"/>
<path d="M677.3,1161.79A13.3,13.3 0 1 1 677.3,1187.75Z" fill="#0000ff"/>
<circle cx="698.2" cy="1176.3" r="11.85" fill="#fff" stroke="#0000ff" stroke-width="2.9"/>
<path d="M695.3,1163.36A13.3,13.3 0 1 1 695.3,1189.32Z" fill="#0000ff"/>
<circle cx="716.1" cy="1177.8" r="11.85" fill="#fff" stroke="#0000ff" stroke-width="2.9"/>
<path d="M713.2,1164.78A13.3,13.3 0 1 1 713.2,1190.74Z" fill="#0000ff"/>
<circle cx="734.0" cy="1179.3" r="11.85" fill="#fff" stroke="#0000ff" stroke-width="2.9"/>
<path d="M731.1,1166.36A13.3,13.3 0 1 1 731.1,1192.32Z" fill="#0000ff"/>
<circle cx="752.0" cy="1180.8" r="11.85" fill="#fff" stroke="#0000ff" stroke-width="2.9"/>
<path d="M749.1,1167.77A13.3,13.3 0 1 1 749.1,1193.73Z" fill="#0000ff"/>
<circle cx="769.9" cy="1181.8" r="11.85" fill="#fff" stroke="#0000ff" stroke-width="2.9"/>
<path d="M767.0,1168.82A13.3,13.3 0 1 1 767.0,1194.78Z" fill="#0000ff"/>
<circle cx="787.8" cy="1182.6" r="11.85" fill="#fff" stroke="#0000ff" stroke-width="2.9"/>
<path d="M784.9,1169.64A13.3,13.3 0 1 1 784.9,1195.60Z" fill="#0000ff"/>
<circle cx="805.8" cy="1183.2" r="11.85" fill="#fff" stroke="#0000ff" stroke-width="2.9"/>
<path d="M802.9,1170.24A13.3,13.3 0 1 1 802.9,1196.20Z" fill="#0000ff"/>
<circle cx="823.7" cy="1183.7" r="11.85" fill="#fff" stroke="#0000ff" stroke-width="2.9"/>
<path d="M820.8,1170.76A13.3,13.3 0 1 1 820.8,1196.72Z" fill="#0000ff"/>
<circle cx="841.6" cy="1184.3" r="11.85" fill="#fff" stroke="#0000ff" stroke-width="2.9"/>
<path d="M838.7,1171.35A13.3,13.3 0 1 1 838.7,1197.31Z" fill="#0000ff"/>
<circle cx="859.5" cy="1184.9" r="11.85" fill="#fff" stroke="#0000ff" stroke-width="2.9"/>
<path d="M856.6,1171.88A13.3,13.3 0 1 1 856.6,1197.84Z" fill="#0000ff"/>
<circle cx="877.5" cy="1185.3" r="11.85" fill="#fff" stroke="#0000ff" stroke-width="2.9"/>
<path d="M874.6,1172.30A13.3,13.3 0 1 1 874.6,1198.26Z" fill="#0000ff"/>
<circle cx="895.4" cy="1185.6" r="11.85" fill="#fff" stroke="#0000ff" stroke-width="2.9"/>
<path d="M892.5,1172.63A13.3,13.3 0 1 1 892.5,1198.59Z" fill="#0000ff"/>
<circle cx="178.2" cy="1066.1" r="11.85" fill="#fff" stroke="#0000ff" stroke-width="2.9"/>
<path d="M175.3,1053.12A13.3,13.3 0 1 1 175.3,1079.08Z" fill="#0000ff"/>
<circle cx="196.1" cy="1080.2" r="11.85" fill="#fff" stroke="#0000ff" stroke-width="2.9"/>
<path d="M193.2,1067.26A13.3,13.3 0 1 1 193.2,1093.22Z" fill="#0000ff"/>
<circle cx="214.1" cy="1091.3" r="11.85" fill="#fff" stroke="#0000ff" stroke-width="2.9"/>
<path d="M211.2,1078.33A13.3,13.3 0 1 1 211.2,1104.29Z" fill="#0000ff"/>
<circle cx="232.0" cy="1101.5" r="11.85" fill="#fff" stroke="#0000ff" stroke-width="2.9"/>
<path d="M229.1,1088.50A13.3,13.3 0 1 1 229.1,1114.46Z" fill="#0000ff"/>
<circle cx="249.9" cy="1109.0" r="11.85" fill="#fff" stroke="#0000ff" stroke-width="2.9"/>
<path d="M247.0,1095.98A13.3,13.3 0 1 1 247.0,1121.94Z" fill="#0000ff"/>
<circle cx="267.9" cy="1116.6" r="11.85" fill="#fff" stroke="#0000ff" stroke-width="2.9"/>
<path d="M265.0,1103.60A13.3,13.3 0 1 1 265.0,1129.56Z" fill="#0000ff"/>
<circle cx="285.8" cy="1124.4" r="11.85" fill="#fff" stroke="#0000ff" stroke-width="2.9"/>
<path d="M282.9,1111.46A13.3,13.3 0 1 1 282.9,1137.42Z" fill="#0000ff"/>
<circle cx="303.7" cy="1130.2" r="11.85" fill="#fff" stroke="#0000ff" stroke-width="2.9"/>
<path d="M300.8,1117.22A13.3,13.3 0 1 1 300.8,1143.18Z" fill="#0000ff"/>
<circle cx="321.6" cy="1135.9" r="11.85" fill="#fff" stroke="#0000ff" stroke-width="2.9"/>
<path d="M318.7,1122.90A13.3,13.3 0 1 1 318.7,1148.86Z" fill="#0000ff"/>
<circle cx="339.6" cy="1141.5" r="11.85" fill="#fff" stroke="#0000ff" stroke-width="2.9"/>
<path d="M336.7,1128.51A13.3,13.3 0 1 1 336.7,1154.47Z" fill="#0000ff"/>
<circle cx="357.5" cy="1146.3" r="11.85" fill="#fff" stroke="#0000ff" stroke-width="2.9"/>
<path d="M354.6,1133.37A13.3,13.3 0 1 1 354.6,1159.33Z" fill="#0000ff"/>
<circle cx="375.4" cy="1150.5" r="11.85" fill="#fff" stroke="#0000ff" stroke-width="2.9"/>
<path d="M372.5,1137.48A13.3,13.3 0 1 1 372.5,1163.44Z" fill="#0000ff"/>
<circle cx="393.4" cy="1154.4" r="11.85" fill="#fff" stroke="#0000ff" stroke-width="2.9"/>
<path d="M390.5,1141.45A13.3,13.3 0 1 1 390.5,1167.41Z" fill="#0000ff"/>
<circle cx="411.3" cy="1157.9" r="11.85" fill="#fff" stroke="#0000ff" stroke-width="2.9"/>
<path d="M408.4,1144.96A13.3,13.3 0 1 1 408.4,1170.92Z" fill="#0000ff"/>
<circle cx="429.2" cy="1161.3" r="11.85" fill="#fff" stroke="#0000ff" stroke-width="2.9"/>
<path d="M426.3,1148.33A13.3,13.3 0 1 1 426.3,1174.29Z" fill="#0000ff"/>
<circle cx="447.2" cy="1164.7" r="11.85" fill="#fff" stroke="#0000ff" stroke-width="2.9"/>
<path d="M444.3,1151.69A13.3,13.3 0 1 1 444.3,1177.65Z" fill="#0000ff"/>
<circle cx="465.1" cy="1167.7" r="11.85" fill="#fff" stroke="#0000ff" stroke-width="2.9"/>
<path d="M462.2,1154.68A13.3,13.3 0 1 1 462.2,1180.64Z" fill="#0000ff"/>
<circle cx="483.0" cy="1169.9" r="11.85" fill="#fff" stroke="#0000ff" stroke-width="2.9"/>
<path d="M480.1,1156.93A13.3,13.3 0 1 1 480.1,1182.89Z" fill="#0000ff"/>
<circle cx="500.9" cy="1172.2" r="11.85" fill="#fff" stroke="#0000ff" stroke-width="2.9"/>
<path d="M498.0,1159.17A13.3,13.3 0 1 1 498.0,1185.13Z" fill="#0000ff"/>
<circle cx="518.9" cy="1173.8" r="11.85" fill="#fff" stroke="#0000ff" stroke-width="2.9"/>
<path d="M516.0,1160.80A13.3,13.3 0 1 1 516.0,1186.76Z" fill="#0000ff"/>
<circle cx="536.8" cy="1175.1" r="11.85" fill="#fff" stroke="#0000ff" stroke-width="2.9"/>
<path d="M533.9,1162.16A13.3,13.3 0 1 1 533.9,1188.12Z" fill="#0000ff"/>
<circle cx="554.7" cy="1176.3" r="11.85" fill="#fff" stroke="#0000ff" stroke-width="2.9"/>
<path d="M551.8,1163.35A13.3,13.3 0 1 1 551.8,1189.31Z" fill="#0000ff"/>
<circle cx="572.7" cy="1177.4" r="11.85" fill="#fff" stroke="#0000ff" stroke-width="2.9"/>
<path d="M569.8,1164.41A13.3,13.3 0 1 1 569.8,1190.37Z" fill="#0000ff"/>
<circle cx="590.6" cy="1178.4" r="11.85" fill="#fff" stroke="#0000ff" stroke-width="2.9"/>
<path d="M587.7,1165.39A13.3,13.3 0 1 1 587.7,1191.35Z" fill="#0000ff"/>
<circle cx="608.5" cy="1179.3" r="11.85" fill="#fff" stroke="#0000ff" stroke-width="2.9"/>
<path d="M605.6,1166.28A13.3,13.3 0 1 1 605.6,1192.24Z" fill="#0000ff"/>
<circle cx="626.5" cy="1180.1" r="11.85" fill="#fff" stroke="#0000ff" stroke-width="2.9"/>
<path d="M623.6,1167.07A13.3,13.3 0 1 1 623.6,1193.03Z" fill="#0000ff"/>
<circle cx="644.4" cy="1180.8" r="11.85" fill="#fff" stroke="#0000ff" stroke-width="2.9"/>
<path d="M641.5,1167.77A13.3,13.3 0 1 1 641.5,1193.73Z" fill="#0000ff"/>
<circle cx="662.3" cy="1181.3" r="11.85" fill="#fff" stroke="#0000ff" stroke-width="2.9"/>
<path d="M659.4,1168.35A13.3,13.3 0 1 1 659.4,1194.31Z" fill="#0000ff"/>
<circle cx="680.2" cy="1181.9" r="11.85" fill="#fff" stroke="#0000ff" stroke-width="2.9"/>
<path d="M677.3,1168.89A13.3,13.3 0 1 1 677.3,1194.85Z" fill="#0000ff"/>
<circle cx="698.2" cy="1182.5" r="11.85" fill="#fff" stroke="#0000ff" stroke-width="2.9"/>
<path d="M695.3,1169.48A13.3,13.3 0 1 1 695.3,1195.44Z" fill="#0000ff"/>
<circle cx="716.1" cy="1183.0" r="11.85" fill="#fff" stroke="#0000ff" stroke-width="2.9"/>
<path d="M713.2,1170.01A13.3,13.3 0 1 1 713.2,1195.97Z" fill="#0000ff"/>
<circle cx="734.0" cy="1183.4" r="11.85" fill="#fff" stroke="#0000ff" stroke-width="2.9"/>
<path d="M731.1,1170.41A13.3,13.3 0 1 1 731.1,1196.37Z" fill="#0000ff"/>
<circle cx="752.0" cy="1183.7" r="11.85" fill="#fff" stroke="#0000ff" stroke-width="2.9"/>
<path d="M749.1,1170.76A13.3,13.3 0 1 1 749.1,1196.72Z" fill="#0000ff"/>
<circle cx="769.9" cy="1184.1" r="11.85" fill="#fff" stroke="#0000ff" stroke-width="2.9"/>
<path d="M767.0,1171.17A13.3,13.3 0 1 1 767.0,1197.13Z" fill="#0000ff"/>
<circle cx="787.8" cy="1184.5" r="11.85" fill="#fff" stroke="#0000ff" stroke-width="2.9"/>
<path d="M784.9,1171.51A13.3,13.3 0 1 1 784.9,1197.47Z" fill="#0000ff"/>
<circle cx="805.8" cy="1184.7" r="11.85" fill="#fff" stroke="#0000ff" stroke-width="2.9"/>
<path d="M802.9,1171.71A13.3,13.3 0 1 1 802.9,1197.67Z" fill="#0000ff"/>
<circle cx="823.7" cy="1184.9" r="11.85" fill="#fff" stroke="#0000ff" stroke-width="2.9"/>
<path d="M820.8,1171.88A13.3,13.3 0 1 1 820.8,1197.84Z" fill="#0000ff"/>
<circle cx="841.6" cy="1185.1" r="11.85" fill="#fff" stroke="#0000ff" stroke-width="2.9"/>
<path d="M838.7,1172.12A13.3,13.3 0 1 1 838.7,1198.08Z" fill="#0000ff"/>
<circle cx="859.5" cy="1185.2" r="11.85" fill="#fff" stroke="#0000ff" stroke-width="2.9"/>
<path d="M856.6,1172.26A13.3,13.3 0 1 1 856.6,1198.22Z" fill="#0000ff"/>
<circle cx="877.5" cy="1185.2" r="11.85" fill="#fff" stroke="#0000ff" stroke-width="2.9"/>
<path d="M874.6,1172.26A13.3,13.3 0 1 1 874.6,1198.22Z" fill="#0000ff"/>
<circle cx="895.4" cy="1185.2" r="11.85" fill="#fff" stroke="#0000ff" stroke-width="2.9"/>
<path d="M892.5,1172.26A13.3,13.3 0 1 1 892.5,1198.22Z" fill="#0000ff"/>
<circle cx="178.2" cy="1132.2" r="11.85" fill="#fff" stroke="#0000ff" stroke-width="2.9"/>
<path d="M175.3,1119.23A13.3,13.3 0 1 1 175.3,1145.19Z" fill="#0000ff"/>
<circle cx="196.1" cy="1137.0" r="11.85" fill="#fff" stroke="#0000ff" stroke-width="2.9"/>
<path d="M193.2,1124.02A13.3,13.3 0 1 1 193.2,1149.98Z" fill="#0000ff"/>
<circle cx="214.1" cy="1141.7" r="11.85" fill="#fff" stroke="#0000ff" stroke-width="2.9"/>
<path d="M211.2,1128.73A13.3,13.3 0 1 1 211.2,1154.69Z" fill="#0000ff"/>
<circle cx="232.0" cy="1146.4" r="11.85" fill="#fff" stroke="#0000ff" stroke-width="2.9"/>
<path d="M229.1,1133.44A13.3,13.3 0 1 1 229.1,1159.40Z" fill="#0000ff"/>
<circle cx="249.9" cy="1151.2" r="11.85" fill="#fff" stroke="#0000ff" stroke-width="2.9"/>
<path d="M247.0,1138.23A13.3,13.3 0 1 1 247.0,1164.19Z" fill="#0000ff"/>
<circle cx="267.9" cy="1154.2" r="11.85" fill="#fff" stroke="#0000ff" stroke-width="2.9"/>
<path d="M265.0,1141.22A13.3,13.3 0 1 1 265.0,1167.18Z" fill="#0000ff"/>
<circle cx="285.8" cy="1157.6" r="11.85" fill="#fff" stroke="#0000ff" stroke-width="2.9"/>
<path d="M282.9,1144.59A13.3,13.3 0 1 1 282.9,1170.55Z" fill="#0000ff"/>
<circle cx="303.7" cy="1160.9" r="11.85" fill="#fff" stroke="#0000ff" stroke-width="2.9"/>
<path d="M300.8,1147.95A13.3,13.3 0 1 1 300.8,1173.91Z" fill="#0000ff"/>
<circle cx="321.6" cy="1163.6" r="11.85" fill="#fff" stroke="#0000ff" stroke-width="2.9"/>
<path d="M318.7,1150.57A13.3,13.3 0 1 1 318.7,1176.53Z" fill="#0000ff"/>
<circle cx="339.6" cy="1166.2" r="11.85" fill="#fff" stroke="#0000ff" stroke-width="2.9"/>
<path d="M336.7,1153.19A13.3,13.3 0 1 1 336.7,1179.15Z" fill="#0000ff"/>
<circle cx="357.5" cy="1168.0" r="11.85" fill="#fff" stroke="#0000ff" stroke-width="2.9"/>
<path d="M354.6,1155.06A13.3,13.3 0 1 1 354.6,1181.02Z" fill="#0000ff"/>
<circle cx="375.4" cy="1169.9" r="11.85" fill="#fff" stroke="#0000ff" stroke-width="2.9"/>
<path d="M372.5,1156.93A13.3,13.3 0 1 1 372.5,1182.89Z" fill="#0000ff"/>
<circle cx="393.4" cy="1172.2" r="11.85" fill="#fff" stroke="#0000ff" stroke-width="2.9"/>
<path d="M390.5,1159.17A13.3,13.3 0 1 1 390.5,1185.13Z" fill="#0000ff"/>
<circle cx="411.3" cy="1173.3" r="11.85" fill="#fff" stroke="#0000ff" stroke-width="2.9"/>
<path d="M408.4,1160.29A13.3,13.3 0 1 1 408.4,1186.25Z" fill="#0000ff"/>
<circle cx="429.2" cy="1174.8" r="11.85" fill="#fff" stroke="#0000ff" stroke-width="2.9"/>
<path d="M426.3,1161.79A13.3,13.3 0 1 1 426.3,1187.75Z" fill="#0000ff"/>
<circle cx="447.2" cy="1175.9" r="11.85" fill="#fff" stroke="#0000ff" stroke-width="2.9"/>
<path d="M444.3,1162.91A13.3,13.3 0 1 1 444.3,1188.87Z" fill="#0000ff"/>
<circle cx="465.1" cy="1177.4" r="11.85" fill="#fff" stroke="#0000ff" stroke-width="2.9"/>
<path d="M462.2,1164.41A13.3,13.3 0 1 1 462.2,1190.37Z" fill="#0000ff"/>
<circle cx="483.0" cy="1178.9" r="11.85" fill="#fff" stroke="#0000ff" stroke-width="2.9"/>
<path d="M480.1,1165.90A13.3,13.3 0 1 1 480.1,1191.86Z" fill="#0000ff"/>
<circle cx="500.9" cy="1180.0" r="11.85" fill="#fff" stroke="#0000ff" stroke-width="2.9"/>
<path d="M498.0,1167.02A13.3,13.3 0 1 1 498.0,1192.98Z" fill="#0000ff"/>
<circle cx="518.9" cy="1180.8" r="11.85" fill="#fff" stroke="#0000ff" stroke-width="2.9"/>
<path d="M516.0,1167.81A13.3,13.3 0 1 1 516.0,1193.77Z" fill="#0000ff"/>
<circle cx="536.8" cy="1181.5" r="11.85" fill="#fff" stroke="#0000ff" stroke-width="2.9"/>
<path d="M533.9,1168.52A13.3,13.3 0 1 1 533.9,1194.48Z" fill="#0000ff"/>
<circle cx="554.7" cy="1182.3" r="11.85" fill="#fff" stroke="#0000ff" stroke-width="2.9"/>
<path d="M551.8,1169.28A13.3,13.3 0 1 1 551.8,1195.24Z" fill="#0000ff"/>
<circle cx="572.7" cy="1183.0" r="11.85" fill="#fff" stroke="#0000ff" stroke-width="2.9"/>
<path d="M569.8,1170.01A13.3,13.3 0 1 1 569.8,1195.97Z" fill="#0000ff"/>
<circle cx="590.6" cy="1183.7" r="11.85" fill="#fff" stroke="#0000ff" stroke-width="2.9"/>
<path d="M587.7,1170.67A13.3,13.3 0 1 1 587.7,1196.63Z" fill="#0000ff"/>
<circle cx="608.5" cy="1184.3" r="11.85" fill="#fff" stroke="#0000ff" stroke-width="2.9"/>
<path d="M605.6,1171.29A13.3,13.3 0 1 1 605.6,1197.25Z" fill="#0000ff"/>
<circle cx="626.5" cy="1184.9" r="11.85" fill="#fff" stroke="#0000ff" stroke-width="2.9"/>
<path d="M623.6,1171.88A13.3,13.3 0 1 1 623.6,1197.84Z" fill="#0000ff"/>
<circle cx="644.4" cy="1185.4" r="11.85" fill="#fff" stroke="#0000ff" stroke-width="2.9"/>
<path d="M641.5,1172.41A13.3,13.3 0 1 1 641.5,1198.37Z" fill="#0000ff"/>
<circle cx="662.3" cy="1185.8" r="11.85" fill="#fff" stroke="#0000ff" stroke-width="2.9"/>
<path d="M659.4,1172.81A13.3,13.3 0 1 1 659.4,1198.77Z" fill="#0000ff"/>
<circle cx="680.2" cy="1186.1" r="11.85" fill="#fff" stroke="#0000ff" stroke-width="2.9"/>
<path d="M677.3,1173.16A13.3,13.3 0 1 1 677.3,1199.12Z" fill="#0000ff"/>
<circle cx="698.2" cy="1186.5" r="11.85" fill="#fff" stroke="#0000ff" stroke-width="2.9"/>
<path d="M695.3,1173.48A13.3,13.3 0 1 1 695.3,1199.44Z" fill="#0000ff"/>
<circle cx="716.1" cy="1186.7" r="11.85" fill="#fff" stroke="#0000ff" stroke-width="2.9"/>
<path d="M713.2,1173.75A13.3,13.3 0 1 1 713.2,1199.71Z" fill="#0000ff"/>
<circle cx="734.0" cy="1186.9" r="11.85" fill="#fff" stroke="#0000ff" stroke-width="2.9"/>
<path d="M731.1,1173.96A13.3,13.3 0 1 1 731.1,1199.92Z" fill="#0000ff"/>
<circle cx="752.0" cy="1187.1" r="11.85" fill="#fff" stroke="#0000ff" stroke-width="2.9"/>
<path d="M749.1,1174.13A13.3,13.3 0 1 1 749.1,1200.09Z" fill="#0000ff"/>
<circle cx="769.9" cy="1187.3" r="11.85" fill="#fff" stroke="#0000ff" stroke-width="2.9"/>
<path d="M767.0,1174.30A13.3,13.3 0 1 1 767.0,1200.26Z" fill="#0000ff"/>
<circle cx="787.8" cy="1187.4" r="11.85" fill="#fff" stroke="#0000ff" stroke-width="2.9"/>
<path d="M784.9,1174.43A13.3,13.3 0 1 1 784.9,1200.39Z" fill="#0000ff"/>
<circle cx="805.8" cy="1187.5" r="11.85" fill="#fff" stroke="#0000ff" stroke-width="2.9"/>
<path d="M802.9,1174.48A13.3,13.3 0 1 1 802.9,1200.44Z" fill="#0000ff"/>
<circle cx="823.7" cy="1187.5" r="11.85" fill="#fff" stroke="#0000ff" stroke-width="2.9"/>
<path d="M820.8,1174.50A13.3,13.3 0 1 1 820.8,1200.46Z" fill="#0000ff"/>
<circle cx="841.6" cy="1187.4" r="11.85" fill="#fff" stroke="#0000ff" stroke-width="2.9"/>
<path d="M838.7,1174.38A13.3,13.3 0 1 1 838.7,1200.34Z" fill="#0000ff"/>
<circle cx="859.5" cy="1187.1" r="11.85" fill="#fff" stroke="#0000ff" stroke-width="2.9"/>
<path d="M856.6,1174.13A13.3,13.3 0 1 1 856.6,1200.09Z" fill="#0000ff"/>
<circle cx="877.5" cy="1186.8" r="11.85" fill="#fff" stroke="#0000ff" stroke-width="2.9"/>
<path d="M874.6,1173.81A13.3,13.3 0 1 1 874.6,1199.77Z" fill="#0000ff"/>
<circle cx="895.4" cy="1186.4" r="11.85" fill="#fff" stroke="#0000ff" stroke-width="2.9"/>
<path d="M892.5,1173.38A13.3,13.3 0 1 1 892.5,1199.34Z" fill="#0000ff"/>
<rect x="147.5" y="600.4" width="781" height="605.8" fill="none" stroke="#111" stroke-width="2.4"/>
<line x1="132.5" y1="600.404" x2="147.5" y2="600.404" stroke="#111" stroke-width="2.2"/>
<line x1="132.5" y1="749.9780000000001" x2="147.5" y2="749.9780000000001" stroke="#111" stroke-width="2.2"/>
<line x1="132.5" y1="899.552" x2="147.5" y2="899.552" stroke="#111" stroke-width="2.2"/>
<line x1="132.5" y1="1049.126" x2="147.5" y2="1049.126" stroke="#111" stroke-width="2.2"/>
<line x1="132.5" y1="1198.7" x2="147.5" y2="1198.7" stroke="#111" stroke-width="2.2"/>
<text x="59.94" y="614.81" font-size="38.59" textLength="65.06" lengthAdjust="spacingAndGlyphs" fill="#111">800</text>
<text x="60.05" y="767.91" font-size="39.29" textLength="64.95" lengthAdjust="spacingAndGlyphs" fill="#111">600</text>
<text x="59.11" y="917.42" font-size="37.88" textLength="65.91" lengthAdjust="spacingAndGlyphs" fill="#111">400</text>
<text x="59.84" y="1063.32" font-size="38.30" textLength="65.26" lengthAdjust="spacingAndGlyphs" fill="#111">200</text>
<text x="101.60" y="1213.12" font-size="38.30" textLength="23.64" lengthAdjust="spacingAndGlyphs" fill="#111">0</text>
<line x1="179.7" y1="1206.2" x2="179.7" y2="1221" stroke="#111" stroke-width="2.2"/>
<text x="158.69" y="1267.11" font-size="39.15" textLength="44.61" lengthAdjust="spacingAndGlyphs" fill="#111">10</text>
<text x="205.58" y="1254.00" font-size="38.71" textLength="21.39" lengthAdjust="spacingAndGlyphs" fill="#111">2</text>
<line x1="359.4" y1="1206.2" x2="359.4" y2="1221" stroke="#111" stroke-width="2.2"/>
<text x="338.29" y="1267.11" font-size="39.15" textLength="44.61" lengthAdjust="spacingAndGlyphs" fill="#111">10</text>
<text x="385.27" y="1253.31" font-size="38.73" textLength="21.19" lengthAdjust="spacingAndGlyphs" fill="#111">3</text>
<line x1="539" y1="1206.2" x2="539" y2="1221" stroke="#111" stroke-width="2.2"/>
<text x="518.29" y="1267.11" font-size="39.15" textLength="44.61" lengthAdjust="spacingAndGlyphs" fill="#111">10</text>
<text x="563.65" y="1256.20" font-size="39.13" textLength="23.57" lengthAdjust="spacingAndGlyphs" fill="#111">4</text>
<line x1="716.5" y1="1206.2" x2="716.5" y2="1221" stroke="#111" stroke-width="2.2"/>
<text x="695.06" y="1266.71" font-size="38.59" textLength="43.60" lengthAdjust="spacingAndGlyphs" fill="#111">10</text>
<text x="740.87" y="1255.81" font-size="38.57" textLength="22.60" lengthAdjust="spacingAndGlyphs" fill="#111">5</text>
<line x1="896.4" y1="1206.2" x2="896.4" y2="1221" stroke="#111" stroke-width="2.2"/>
<text x="877.73" y="1266.91" font-size="38.87" textLength="45.50" lengthAdjust="spacingAndGlyphs" fill="#111">10</text>
<text x="923.80" y="1256.21" font-size="39.15" textLength="22.25" lengthAdjust="spacingAndGlyphs" fill="#111">6</text>
<text x="416.96" y="1314.00" font-size="35.60" font-weight="bold" textLength="271.75" lengthAdjust="spacingAndGlyphs" fill="#111">Frequency (Hz)</text>
<text x="384.65" y="643.47" font-size="42.57" font-weight="bold" textLength="54.02" lengthAdjust="spacingAndGlyphs" fill="#111">(B)</text>
<text x="447.76" y="644.33" font-size="37.46" font-weight="bold" textLength="92.28" lengthAdjust="spacingAndGlyphs" fill="#111">BFCN</text>
<circle cx="522.2" cy="866.4" r="7.8" fill="none" stroke="#0000ff" stroke-width="2.0"/>
<circle cx="530.9" cy="877.9" r="7.8" fill="none" stroke="#0000ff" stroke-width="2.0"/>
<circle cx="539.5" cy="886.7" r="7.8" fill="none" stroke="#0000ff" stroke-width="2.0"/>
<circle cx="548.2" cy="894.6" r="7.8" fill="none" stroke="#0000ff" stroke-width="2.0"/>
<circle cx="556.9" cy="902.4" r="7.8" fill="none" stroke="#0000ff" stroke-width="2.0"/>
<circle cx="565.6" cy="911.0" r="7.8" fill="none" stroke="#0000ff" stroke-width="2.0"/>
<circle cx="574.2" cy="918.5" r="7.8" fill="none" stroke="#0000ff" stroke-width="2.0"/>
<circle cx="582.9" cy="925.0" r="7.8" fill="none" stroke="#0000ff" stroke-width="2.0"/>
<circle cx="591.6" cy="930.7" r="7.8" fill="none" stroke="#0000ff" stroke-width="2.0"/>
<circle cx="600.2" cy="936.2" r="7.8" fill="none" stroke="#0000ff" stroke-width="2.0"/>
<circle cx="608.9" cy="941.2" r="7.8" fill="none" stroke="#0000ff" stroke-width="2.0"/>
<circle cx="617.6" cy="945.5" r="7.8" fill="none" stroke="#0000ff" stroke-width="2.0"/>
<circle cx="626.2" cy="949.7" r="7.8" fill="none" stroke="#0000ff" stroke-width="2.0"/>
<circle cx="634.9" cy="953.8" r="7.8" fill="none" stroke="#0000ff" stroke-width="2.0"/>
<circle cx="643.6" cy="957.5" r="7.8" fill="none" stroke="#0000ff" stroke-width="2.0"/>
<circle cx="652.2" cy="960.4" r="7.8" fill="none" stroke="#0000ff" stroke-width="2.0"/>
<circle cx="660.9" cy="963.0" r="7.8" fill="none" stroke="#0000ff" stroke-width="2.0"/>
<circle cx="669.6" cy="965.3" r="7.8" fill="none" stroke="#0000ff" stroke-width="2.0"/>
<circle cx="678.3" cy="967.5" r="7.8" fill="none" stroke="#0000ff" stroke-width="2.0"/>
<circle cx="686.9" cy="969.5" r="7.8" fill="none" stroke="#0000ff" stroke-width="2.0"/>
<circle cx="695.6" cy="971.2" r="7.8" fill="none" stroke="#0000ff" stroke-width="2.0"/>
<circle cx="704.3" cy="972.6" r="7.8" fill="none" stroke="#0000ff" stroke-width="2.0"/>
<circle cx="712.9" cy="974.0" r="7.8" fill="none" stroke="#0000ff" stroke-width="2.0"/>
<circle cx="721.6" cy="975.2" r="7.8" fill="none" stroke="#0000ff" stroke-width="2.0"/>
<circle cx="730.3" cy="976.4" r="7.8" fill="none" stroke="#0000ff" stroke-width="2.0"/>
<circle cx="739.0" cy="977.4" r="7.8" fill="none" stroke="#0000ff" stroke-width="2.0"/>
<circle cx="747.6" cy="978.5" r="7.8" fill="none" stroke="#0000ff" stroke-width="2.0"/>
<circle cx="756.3" cy="979.5" r="7.8" fill="none" stroke="#0000ff" stroke-width="2.0"/>
<circle cx="765.0" cy="980.5" r="7.8" fill="none" stroke="#0000ff" stroke-width="2.0"/>
<circle cx="773.6" cy="981.3" r="7.8" fill="none" stroke="#0000ff" stroke-width="2.0"/>
<circle cx="782.3" cy="982.0" r="7.8" fill="none" stroke="#0000ff" stroke-width="2.0"/>
<circle cx="791.0" cy="982.6" r="7.8" fill="none" stroke="#0000ff" stroke-width="2.0"/>
<circle cx="799.6" cy="983.3" r="7.8" fill="none" stroke="#0000ff" stroke-width="2.0"/>
<circle cx="808.3" cy="983.8" r="7.8" fill="none" stroke="#0000ff" stroke-width="2.0"/>
<circle cx="817.0" cy="984.2" r="7.8" fill="none" stroke="#0000ff" stroke-width="2.0"/>
<circle cx="825.7" cy="984.4" r="7.8" fill="none" stroke="#0000ff" stroke-width="2.0"/>
<circle cx="834.3" cy="984.4" r="7.8" fill="none" stroke="#0000ff" stroke-width="2.0"/>
<circle cx="843.0" cy="984.4" r="7.8" fill="none" stroke="#0000ff" stroke-width="2.0"/>
<circle cx="851.7" cy="984.4" r="7.8" fill="none" stroke="#0000ff" stroke-width="2.0"/>
<circle cx="860.3" cy="984.4" r="7.8" fill="none" stroke="#0000ff" stroke-width="2.0"/>
<circle cx="869.0" cy="984.4" r="7.8" fill="none" stroke="#0000ff" stroke-width="2.0"/>
<circle cx="522.2" cy="862.5" r="7.8" fill="none" stroke="#0000ff" stroke-width="2.0"/>
<circle cx="530.9" cy="875.5" r="7.8" fill="none" stroke="#0000ff" stroke-width="2.0"/>
<circle cx="539.5" cy="884.4" r="7.8" fill="none" stroke="#0000ff" stroke-width="2.0"/>
<circle cx="548.2" cy="891.9" r="7.8" fill="none" stroke="#0000ff" stroke-width="2.0"/>
<circle cx="556.9" cy="898.9" r="7.8" fill="none" stroke="#0000ff" stroke-width="2.0"/>
<circle cx="565.6" cy="906.4" r="7.8" fill="none" stroke="#0000ff" stroke-width="2.0"/>
<circle cx="574.2" cy="912.9" r="7.8" fill="none" stroke="#0000ff" stroke-width="2.0"/>
<circle cx="582.9" cy="918.5" r="7.8" fill="none" stroke="#0000ff" stroke-width="2.0"/>
<circle cx="591.6" cy="923.5" r="7.8" fill="none" stroke="#0000ff" stroke-width="2.0"/>
<circle cx="600.2" cy="928.0" r="7.8" fill="none" stroke="#0000ff" stroke-width="2.0"/>
<circle cx="608.9" cy="932.3" r="7.8" fill="none" stroke="#0000ff" stroke-width="2.0"/>
<circle cx="617.6" cy="936.3" r="7.8" fill="none" stroke="#0000ff" stroke-width="2.0"/>
<circle cx="626.2" cy="939.9" r="7.8" fill="none" stroke="#0000ff" stroke-width="2.0"/>
<circle cx="634.9" cy="943.3" r="7.8" fill="none" stroke="#0000ff" stroke-width="2.0"/>
<circle cx="643.6" cy="946.4" r="7.8" fill="none" stroke="#0000ff" stroke-width="2.0"/>
<circle cx="652.2" cy="949.3" r="7.8" fill="none" stroke="#0000ff" stroke-width="2.0"/>
<circle cx="660.9" cy="952.1" r="7.8" fill="none" stroke="#0000ff" stroke-width="2.0"/>
<circle cx="669.6" cy="954.6" r="7.8" fill="none" stroke="#0000ff" stroke-width="2.0"/>
<circle cx="678.3" cy="957.0" r="7.8" fill="none" stroke="#0000ff" stroke-width="2.0"/>
<circle cx="686.9" cy="959.1" r="7.8" fill="none" stroke="#0000ff" stroke-width="2.0"/>
<circle cx="695.6" cy="961.0" r="7.8" fill="none" stroke="#0000ff" stroke-width="2.0"/>
<circle cx="704.3" cy="962.9" r="7.8" fill="none" stroke="#0000ff" stroke-width="2.0"/>
<circle cx="712.9" cy="964.6" r="7.8" fill="none" stroke="#0000ff" stroke-width="2.0"/>
<circle cx="721.6" cy="966.2" r="7.8" fill="none" stroke="#0000ff" stroke-width="2.0"/>
<circle cx="730.3" cy="967.8" r="7.8" fill="none" stroke="#0000ff" stroke-width="2.0"/>
<circle cx="739.0" cy="969.3" r="7.8" fill="none" stroke="#0000ff" stroke-width="2.0"/>
<circle cx="747.6" cy="970.7" r="7.8" fill="none" stroke="#0000ff" stroke-width="2.0"/>
<circle cx="756.3" cy="972.1" r="7.8" fill="none" stroke="#0000ff" stroke-width="2.0"/>
<circle cx="765.0" cy="973.4" r="7.8" fill="none" stroke="#0000ff" stroke-width="2.0"/>
<circle cx="773.6" cy="974.6" r="7.8" fill="none" stroke="#0000ff" stroke-width="2.0"/>
<circle cx="782.3" cy="975.7" r="7.8" fill="none" stroke="#0000ff" stroke-width="2.0"/>
<circle cx="791.0" cy="976.7" r="7.8" fill="none" stroke="#0000ff" stroke-width="2.0"/>
<circle cx="799.6" cy="977.7" r="7.8" fill="none" stroke="#0000ff" stroke-width="2.0"/>
<circle cx="808.3" cy="978.6" r="7.8" fill="none" stroke="#0000ff" stroke-width="2.0"/>
<circle cx="817.0" cy="979.4" r="7.8" fill="none" stroke="#0000ff" stroke-width="2.0"/>
<circle cx="825.7" cy="980.1" r="7.8" fill="none" stroke="#0000ff" stroke-width="2.0"/>
<circle cx="834.3" cy="980.6" r="7.8" fill="none" stroke="#0000ff" stroke-width="2.0"/>
<circle cx="843.0" cy="981.1" r="7.8" fill="none" stroke="#0000ff" stroke-width="2.0"/>
<circle cx="851.7" cy="981.5" r="7.8" fill="none" stroke="#0000ff" stroke-width="2.0"/>
<circle cx="860.3" cy="981.8" r="7.8" fill="none" stroke="#0000ff" stroke-width="2.0"/>
<circle cx="869.0" cy="982.0" r="7.8" fill="none" stroke="#0000ff" stroke-width="2.0"/>
<circle cx="522.2" cy="858.6" r="7.8" fill="none" stroke="#0000ff" stroke-width="2.0"/>
<circle cx="530.9" cy="872.6" r="7.8" fill="none" stroke="#0000ff" stroke-width="2.0"/>
<circle cx="539.5" cy="881.6" r="7.8" fill="none" stroke="#0000ff" stroke-width="2.0"/>
<circle cx="548.2" cy="888.4" r="7.8" fill="none" stroke="#0000ff" stroke-width="2.0"/>
<circle cx="556.9" cy="894.3" r="7.8" fill="none" stroke="#0000ff" stroke-width="2.0"/>
<circle cx="565.6" cy="900.4" r="7.8" fill="none" stroke="#0000ff" stroke-width="2.0"/>
<circle cx="574.2" cy="905.7" r="7.8" fill="none" stroke="#0000ff" stroke-width="2.0"/>
<circle cx="582.9" cy="910.5" r="7.8" fill="none" stroke="#0000ff" stroke-width="2.0"/>
<circle cx="591.6" cy="914.9" r="7.8" fill="none" stroke="#0000ff" stroke-width="2.0"/>
<circle cx="600.2" cy="918.7" r="7.8" fill="none" stroke="#0000ff" stroke-width="2.0"/>
<circle cx="608.9" cy="922.2" r="7.8" fill="none" stroke="#0000ff" stroke-width="2.0"/>
<circle cx="617.6" cy="925.6" r="7.8" fill="none" stroke="#0000ff" stroke-width="2.0"/>
<circle cx="626.2" cy="929.2" r="7.8" fill="none" stroke="#0000ff" stroke-width="2.0"/>
<circle cx="634.9" cy="933.1" r="7.8" fill="none" stroke="#0000ff" stroke-width="2.0"/>
<circle cx="643.6" cy="936.6" r="7.8" fill="none" stroke="#0000ff" stroke-width="2.0"/>
<circle cx="652.2" cy="939.8" r="7.8" fill="none" stroke="#0000ff" stroke-width="2.0"/>
<circle cx="660.9" cy="942.9" r="7.8" fill="none" stroke="#0000ff" stroke-width="2.0"/>
<circle cx="669.6" cy="945.7" r="7.8" fill="none" stroke="#0000ff" stroke-width="2.0"/>
<circle cx="678.3" cy="948.2" r="7.8" fill="none" stroke="#0000ff" stroke-width="2.0"/>
<circle cx="686.9" cy="950.3" r="7.8" fill="none" stroke="#0000ff" stroke-width="2.0"/>
<circle cx="695.6" cy="952.2" r="7.8" fill="none" stroke="#0000ff" stroke-width="2.0"/>
<circle cx="704.3" cy="954.0" r="7.8" fill="none" stroke="#0000ff" stroke-width="2.0"/>
<circle cx="712.9" cy="955.7" r="7.8" fill="none" stroke="#0000ff" stroke-width="2.0"/>
<circle cx="721.6" cy="957.3" r="7.8" fill="none" stroke="#0000ff" stroke-width="2.0"/>
<circle cx="730.3" cy="958.9" r="7.8" fill="none" stroke="#0000ff" stroke-width="2.0"/>
<circle cx="739.0" cy="960.6" r="7.8" fill="none" stroke="#0000ff" stroke-width="2.0"/>
<circle cx="747.6" cy="962.3" r="7.8" fill="none" stroke="#0000ff" stroke-width="2.0"/>
<circle cx="756.3" cy="964.1" r="7.8" fill="none" stroke="#0000ff" stroke-width="2.0"/>
<circle cx="765.0" cy="965.8" r="7.8" fill="none" stroke="#0000ff" stroke-width="2.0"/>
<circle cx="773.6" cy="967.4" r="7.8" fill="none" stroke="#0000ff" stroke-width="2.0"/>
<circle cx="782.3" cy="968.8" r="7.8" fill="none" stroke="#0000ff" stroke-width="2.0"/>
<circle cx="791.0" cy="970.1" r="7.8" fill="none" stroke="#0000ff" stroke-width="2.0"/>
<circle cx="799.6" cy="971.4" r="7.8" fill="none" stroke="#0000ff" stroke-width="2.0"/>
<circle cx="808.3" cy="972.5" r="7.8" fill="none" stroke="#0000ff" stroke-width="2.0"/>
<circle cx="817.0" cy="973.6" r="7.8" fill="none" stroke="#0000ff" stroke-width="2.0"/>
<circle cx="825.7" cy="974.7" r="7.8" fill="none" stroke="#0000ff" stroke-width="2.0"/>
<circle cx="834.3" cy="975.7" r="7.8" fill="none" stroke="#0000ff" stroke-width="2.0"/>
<circle cx="843.0" cy="976.7" r="7.8" fill="none" stroke="#0000ff" stroke-width="2.0"/>
<circle cx="851.7" cy="977.7" r="7.8" fill="none" stroke="#0000ff" stroke-width="2.0"/>
<circle cx="860.3" cy="978.7" r="7.8" fill="none" stroke="#0000ff" stroke-width="2.0"/>
<circle cx="869.0" cy="979.6" r="7.8" fill="none" stroke="#0000ff" stroke-width="2.0"/>
<path d="M524.9,753.3L528.2,763.9M534.2,780.4L536.2,785.6M543.0,801.8L544.7,805.6M552.1,821.6L553.0,823.4M561.1,839.0L561.4,839.6" fill="none" stroke="#0000ff" stroke-width="1.6"/>
<circle cx="522.2" cy="744.9" r="7.8" fill="none" stroke="#0000ff" stroke-width="2.0"/>
<circle cx="530.9" cy="772.3" r="7.8" fill="none" stroke="#0000ff" stroke-width="2.0"/>
<circle cx="539.5" cy="793.7" r="7.8" fill="none" stroke="#0000ff" stroke-width="2.0"/>
<circle cx="548.2" cy="813.7" r="7.8" fill="none" stroke="#0000ff" stroke-width="2.0"/>
<circle cx="556.9" cy="831.3" r="7.8" fill="none" stroke="#0000ff" stroke-width="2.0"/>
<circle cx="565.6" cy="847.4" r="7.8" fill="none" stroke="#0000ff" stroke-width="2.0"/>
<circle cx="574.2" cy="861.0" r="7.8" fill="none" stroke="#0000ff" stroke-width="2.0"/>
<circle cx="582.9" cy="874.2" r="7.8" fill="none" stroke="#0000ff" stroke-width="2.0"/>
<circle cx="591.6" cy="885.4" r="7.8" fill="none" stroke="#0000ff" stroke-width="2.0"/>
<circle cx="600.2" cy="894.7" r="7.8" fill="none" stroke="#0000ff" stroke-width="2.0"/>
<circle cx="608.9" cy="903.0" r="7.8" fill="none" stroke="#0000ff" stroke-width="2.0"/>
<circle cx="617.6" cy="910.0" r="7.8" fill="none" stroke="#0000ff" stroke-width="2.0"/>
<circle cx="626.2" cy="916.4" r="7.8" fill="none" stroke="#0000ff" stroke-width="2.0"/>
<circle cx="634.9" cy="922.6" r="7.8" fill="none" stroke="#0000ff" stroke-width="2.0"/>
<circle cx="643.6" cy="928.5" r="7.8" fill="none" stroke="#0000ff" stroke-width="2.0"/>
<circle cx="652.2" cy="933.0" r="7.8" fill="none" stroke="#0000ff" stroke-width="2.0"/>
<circle cx="660.9" cy="936.2" r="7.8" fill="none" stroke="#0000ff" stroke-width="2.0"/>
<circle cx="669.6" cy="938.5" r="7.8" fill="none" stroke="#0000ff" stroke-width="2.0"/>
<circle cx="678.3" cy="940.2" r="7.8" fill="none" stroke="#0000ff" stroke-width="2.0"/>
<circle cx="686.9" cy="941.9" r="7.8" fill="none" stroke="#0000ff" stroke-width="2.0"/>
<circle cx="695.6" cy="943.3" r="7.8" fill="none" stroke="#0000ff" stroke-width="2.0"/>
<circle cx="704.3" cy="944.3" r="7.8" fill="none" stroke="#0000ff" stroke-width="2.0"/>
<circle cx="712.9" cy="945.2" r="7.8" fill="none" stroke="#0000ff" stroke-width="2.0"/>
<circle cx="721.6" cy="946.1" r="7.8" fill="none" stroke="#0000ff" stroke-width="2.0"/>
<circle cx="730.3" cy="947.1" r="7.8" fill="none" stroke="#0000ff" stroke-width="2.0"/>
<circle cx="739.0" cy="948.2" r="7.8" fill="none" stroke="#0000ff" stroke-width="2.0"/>
<circle cx="747.6" cy="949.7" r="7.8" fill="none" stroke="#0000ff" stroke-width="2.0"/>
<circle cx="756.3" cy="951.4" r="7.8" fill="none" stroke="#0000ff" stroke-width="2.0"/>
<circle cx="765.0" cy="953.2" r="7.8" fill="none" stroke="#0000ff" stroke-width="2.0"/>
<circle cx="773.6" cy="955.0" r="7.8" fill="none" stroke="#0000ff" stroke-width="2.0"/>
<circle cx="782.3" cy="956.6" r="7.8" fill="none" stroke="#0000ff" stroke-width="2.0"/>
<circle cx="791.0" cy="958.2" r="7.8" fill="none" stroke="#0000ff" stroke-width="2.0"/>
<circle cx="799.6" cy="959.8" r="7.8" fill="none" stroke="#0000ff" stroke-width="2.0"/>
<circle cx="808.3" cy="961.3" r="7.8" fill="none" stroke="#0000ff" stroke-width="2.0"/>
<circle cx="817.0" cy="962.8" r="7.8" fill="none" stroke="#0000ff" stroke-width="2.0"/>
<circle cx="825.7" cy="964.4" r="7.8" fill="none" stroke="#0000ff" stroke-width="2.0"/>
<circle cx="834.3" cy="965.9" r="7.8" fill="none" stroke="#0000ff" stroke-width="2.0"/>
<circle cx="843.0" cy="967.5" r="7.8" fill="none" stroke="#0000ff" stroke-width="2.0"/>
<circle cx="851.7" cy="969.1" r="7.8" fill="none" stroke="#0000ff" stroke-width="2.0"/>
<circle cx="860.3" cy="970.7" r="7.8" fill="none" stroke="#0000ff" stroke-width="2.0"/>
<circle cx="869.0" cy="972.2" r="7.8" fill="none" stroke="#0000ff" stroke-width="2.0"/>
<line x1="478.7" y1="701.5" x2="478.7" y2="994.2" stroke="#111" stroke-width="2.2"/>
<line x1="477.6" y1="994.2" x2="896.5" y2="994.2" stroke="#111" stroke-width="2.2"/>
<line x1="477.6" y1="701.5" x2="513" y2="701.5" stroke="#111" stroke-width="2.2"/>
<line x1="895.4" y1="896.5" x2="895.4" y2="995.3" stroke="#111" stroke-width="2.2"/>
<line x1="468.7" y1="701.52" x2="478.7" y2="701.52" stroke="#111" stroke-width="2.2"/>
<line x1="468.7" y1="799.08" x2="478.7" y2="799.08" stroke="#111" stroke-width="2.2"/>
<line x1="468.7" y1="896.6400000000001" x2="478.7" y2="896.6400000000001" stroke="#111" stroke-width="2.2"/>
<line x1="468.7" y1="994.2" x2="478.7" y2="994.2" stroke="#111" stroke-width="2.2"/>
<text x="439.83" y="713.92" font-size="37.74" textLength="20.80" lengthAdjust="spacingAndGlyphs" fill="#111">6</text>
<text x="440.72" y="810.00" font-size="38.84" textLength="19.27" lengthAdjust="spacingAndGlyphs" fill="#111">4</text>
<text x="439.58" y="909.00" font-size="38.28" textLength="21.39" lengthAdjust="spacingAndGlyphs" fill="#111">2</text>
<text x="441.58" y="1006.13" font-size="37.46" textLength="18.40" lengthAdjust="spacingAndGlyphs" fill="#111">0</text>
<line x1="523.2" y1="994.2" x2="523.2" y2="1006.2" stroke="#111" stroke-width="2.2"/>
<text x="496.70" y="1049.61" font-size="39.15" textLength="44.49" lengthAdjust="spacingAndGlyphs" fill="#111">10</text>
<text x="543.05" y="1036.60" font-size="39.86" textLength="21.64" lengthAdjust="spacingAndGlyphs" fill="#111">2</text>
<line x1="697.4" y1="994.2" x2="697.4" y2="1006.2" stroke="#111" stroke-width="2.2"/>
<text x="674.26" y="1046.71" font-size="38.73" textLength="43.60" lengthAdjust="spacingAndGlyphs" fill="#111">10</text>
<text x="719.54" y="1036.10" font-size="39.13" textLength="23.68" lengthAdjust="spacingAndGlyphs" fill="#111">4</text>
<line x1="869.4" y1="994.2" x2="869.4" y2="1006.2" stroke="#111" stroke-width="2.2"/>
<text x="848.36" y="1046.71" font-size="38.73" textLength="43.60" lengthAdjust="spacingAndGlyphs" fill="#111">10</text>
<text x="893.41" y="1035.71" font-size="38.59" textLength="23.21" lengthAdjust="spacingAndGlyphs" fill="#111">6</text>
<text x="419.60" y="911.02" font-size="38.40" textLength="65.66" lengthAdjust="spacingAndGlyphs" transform="rotate(-90 419.60 911.02)" fill="#111">Tan</text>
<text x="419.83" y="837.46" font-size="40.32" textLength="8.29" lengthAdjust="spacingAndGlyphs" transform="rotate(-90 419.83 837.46)" fill="#111">(</text>
<text x="419.20" y="826.48" font-size="40.14" textLength="23.33" lengthAdjust="spacingAndGlyphs" transform="rotate(-90 419.20 826.48)" fill="#111">δ</text>
<text x="419.83" y="799.52" font-size="40.32" textLength="9.68" lengthAdjust="spacingAndGlyphs" transform="rotate(-90 419.83 799.52)" fill="#111">)</text>
<rect x="648.2" y="774.4" width="39.3" height="48.2" fill="#800080"/>
<rect x="720.7" y="760.6" width="36.9" height="62.0" fill="#800080"/>
<rect x="798.5" y="671.9" width="37.2" height="150.7" fill="#800080"/>
<rect x="862.5" y="629.0" width="37.5" height="193.6" fill="#800080"/>
<line x1="630.8" y1="624.5" x2="630.8" y2="823.7" stroke="#111" stroke-width="2.2"/>
<line x1="619.5" y1="624.5" x2="916.1" y2="624.5" stroke="#111" stroke-width="2.2"/>
<line x1="915" y1="623.4" x2="915" y2="823.7" stroke="#111" stroke-width="2.2"/>
<line x1="629.7" y1="822.6" x2="770" y2="822.6" stroke="#111" stroke-width="2.2"/>
<line x1="778.1" y1="822.6" x2="916.1" y2="822.6" stroke="#111" stroke-width="2.2"/>
<line x1="770" y1="801" x2="770" y2="834" stroke="#111" stroke-width="2.2"/>
<line x1="778.1" y1="812.4" x2="778.1" y2="847.3" stroke="#111" stroke-width="2.2"/>
<line x1="619.5" y1="624.6" x2="630.8" y2="624.6" stroke="#111" stroke-width="2.2"/>
<line x1="619.5" y1="690.6" x2="630.8" y2="690.6" stroke="#111" stroke-width="2.2"/>
<line x1="619.5" y1="756.6" x2="630.8" y2="756.6" stroke="#111" stroke-width="2.2"/>
<line x1="619.5" y1="822.6" x2="630.8" y2="822.6" stroke="#111" stroke-width="2.2"/>
<text x="593.83" y="636.12" font-size="38.16" textLength="19.60" lengthAdjust="spacingAndGlyphs" fill="#111">9</text>
<text x="593.74" y="703.12" font-size="37.88" textLength="19.60" lengthAdjust="spacingAndGlyphs" fill="#111">6</text>
<text x="594.21" y="768.42" font-size="37.88" textLength="19.09" lengthAdjust="spacingAndGlyphs" fill="#111">3</text>
<text x="595.07" y="834.82" font-size="37.88" textLength="17.12" lengthAdjust="spacingAndGlyphs" fill="#111">0</text>
<line x1="667.9" y1="822.6" x2="667.9" y2="835.7" stroke="#111" stroke-width="2.2"/>
<line x1="743.3" y1="822.6" x2="743.3" y2="835.7" stroke="#111" stroke-width="2.2"/>
<line x1="815.4" y1="822.6" x2="815.4" y2="835.7" stroke="#111" stroke-width="2.2"/>
<line x1="882" y1="822.6" x2="882" y2="835.7" stroke="#111" stroke-width="2.2"/>
<text x="645.01" y="873.13" font-size="37.46" textLength="44.06" lengthAdjust="spacingAndGlyphs" fill="#111">30</text>
<text x="724.11" y="873.13" font-size="37.46" textLength="38.78" lengthAdjust="spacingAndGlyphs" fill="#111">50</text>
<text x="795.60" y="873.13" font-size="37.46" textLength="36.72" lengthAdjust="spacingAndGlyphs" fill="#111">80</text>
<text x="850.72" y="873.13" font-size="37.46" textLength="59.66" lengthAdjust="spacingAndGlyphs" fill="#111">100</text>
<text x="634.60" y="660.06" font-size="40.21" font-weight="bold" textLength="48.89" lengthAdjust="spacingAndGlyphs" fill="#111">(a)</text>
<text x="641.79" y="718.73" font-size="37.46" textLength="64.70" lengthAdjust="spacingAndGlyphs" fill="#111">100</text>
<text x="711.54" y="719.10" font-size="38.55" textLength="45.30" lengthAdjust="spacingAndGlyphs" fill="#111">Hz</text>
<text x="572.83" y="772.90" font-size="40.32" textLength="13.32" lengthAdjust="spacingAndGlyphs" transform="rotate(-90 572.83 772.90)" fill="#111">(</text>
<text x="572.90" y="760.36" font-size="42.18" textLength="28.15" lengthAdjust="spacingAndGlyphs" transform="rotate(-90 572.90 760.36)" fill="#111">Δ</text>
<text x="572.50" y="732.62" font-size="39.82" textLength="18.06" lengthAdjust="spacingAndGlyphs" transform="rotate(-90 572.50 732.62)" fill="#111">ε</text>
<path d="M537.9,708.6 L548.1,709.8 L548.1,711.4 L537.9,712.4 Z" fill="#111"/>
<text x="569.74" y="701.42" font-size="40.75" textLength="14.20" lengthAdjust="spacingAndGlyphs" transform="rotate(-90 569.74 701.42)" fill="#111">)</text>
<text x="747.60" y="919.60" font-size="40.87" textLength="24.33" lengthAdjust="spacingAndGlyphs" fill="#111">T</text>
<text x="773.50" y="918.23" font-size="38.39" textLength="10.68" lengthAdjust="spacingAndGlyphs" fill="#111">(</text>
<text x="790.24" y="901.64" font-size="35.98" textLength="19.07" lengthAdjust="spacingAndGlyphs" fill="#111">o</text>
<text x="811.69" y="919.79" font-size="40.57" textLength="27.64" lengthAdjust="spacingAndGlyphs" fill="#111">C</text>
<text x="843.47" y="918.23" font-size="38.39" textLength="10.18" lengthAdjust="spacingAndGlyphs" fill="#111">)</text>
<rect x="228.6" y="507" width="159" height="230" fill="#fff"/>
<rect x="233.6" y="509.8" width="147.2" height="221.8" fill="#fff" stroke="#111" stroke-width="2.3"/>
<text x="266.07" y="553.50" font-size="39.42" textLength="22.49" lengthAdjust="spacingAndGlyphs" fill="#111">T</text>
<text x="298.92" y="553.29" font-size="40.54" textLength="11.06" lengthAdjust="spacingAndGlyphs" fill="#111">(</text>
<text x="315.11" y="534.25" font-size="34.52" textLength="20.83" lengthAdjust="spacingAndGlyphs" fill="#111">o</text>
<text x="334.57" y="553.71" font-size="39.15" textLength="25.02" lengthAdjust="spacingAndGlyphs" fill="#111">C</text>
<text x="365.65" y="553.29" font-size="40.54" textLength="11.06" lengthAdjust="spacingAndGlyphs" fill="#111">)</text>
<text x="268.53" y="598.62" font-size="37.88" textLength="65.99" lengthAdjust="spacingAndGlyphs" fill="#111">100</text>
<text x="269.84" y="639.01" font-size="39.01" textLength="43.52" lengthAdjust="spacingAndGlyphs" fill="#111">80</text>
<text x="269.94" y="679.32" font-size="38.02" textLength="43.42" lengthAdjust="spacingAndGlyphs" fill="#111">50</text>
<text x="270.04" y="719.61" font-size="38.87" textLength="43.31" lengthAdjust="spacingAndGlyphs" fill="#111">30</text>
<line x1="253.5" y1="590" x2="253.5" y2="711.2" stroke="#005c00" stroke-width="4.8"/>
<path d="M253.6,574 L264.5,593.5 L242.7,593.5 Z" fill="#005c00"/>
</svg></body></html>
